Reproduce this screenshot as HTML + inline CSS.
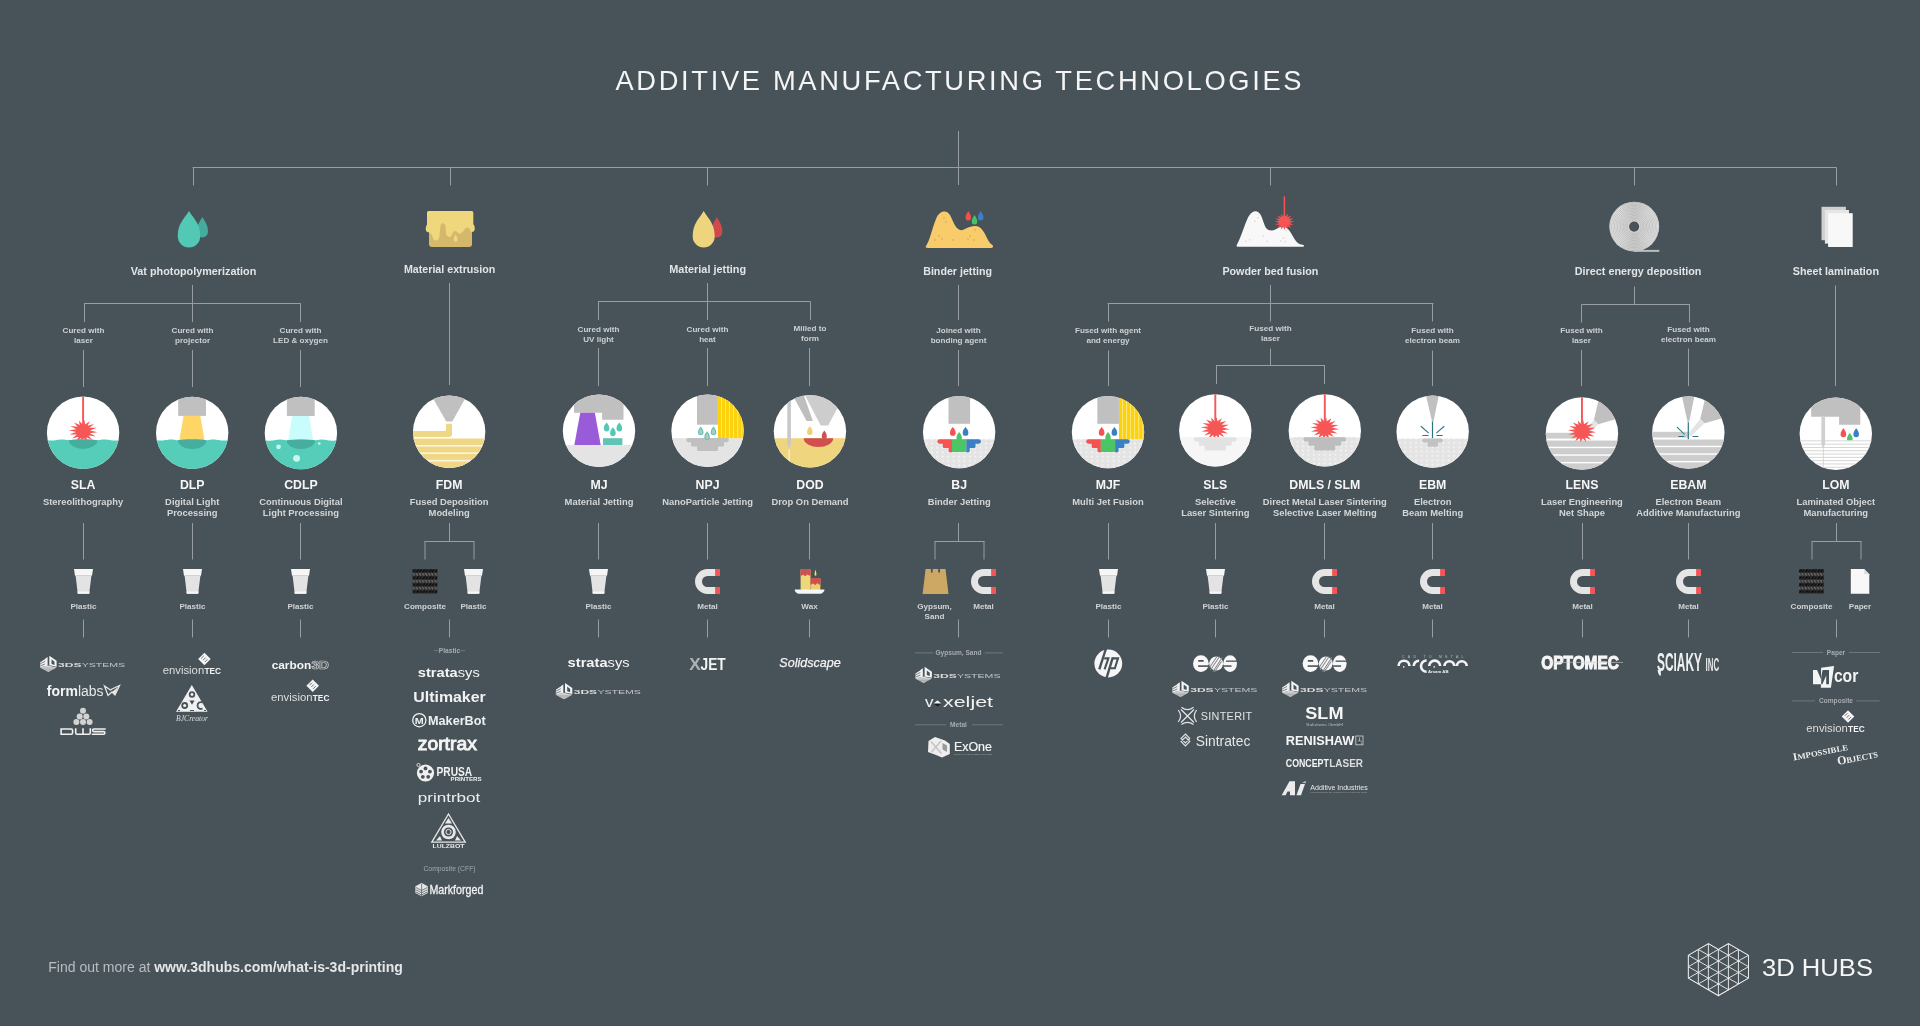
<!DOCTYPE html>
<html><head><meta charset="utf-8"><style>
html,body{margin:0;padding:0;background:#485359;}
body{width:1920px;height:1026px;overflow:hidden;}
svg{display:block;will-change:transform;}
</style></head><body>
<svg width="1920" height="1026" viewBox="0 0 1920 1026">
<defs><pattern id="dots" x="0" y="0" width="6.6" height="6.6" patternUnits="userSpaceOnUse"><rect width="6.6" height="6.6" fill="#e4e4e4"/><circle cx="1" cy="1" r="0.6" fill="#f7f7f7"/><circle cx="4.3" cy="4.3" r="0.6" fill="#f7f7f7"/></pattern>
<pattern id="weave" x="0" y="569" width="6.2" height="6.9" patternUnits="userSpaceOnUse"><rect width="6.2" height="6.9" fill="#2e2e2e"/><path d="M0.2,3.2 L2.6,0.4 L4.2,0.4 L1.8,3.2 Z M3.3,3.2 L5.7,0.4 L6.2,0.4 L6.2,1.2 L4.9,3.2 Z" fill="#050505"/><path d="M0,4.0 L1.6,6.6 L3.0,6.6 L1.4,4.0 Z M3.1,4.0 L4.7,6.6 L6.1,6.6 L4.5,4.0 Z" fill="#737373"/><path d="M1.4,4.0 L3.0,6.6 L3.5,6.6 L1.9,4.0 Z" fill="#4a4a4a"/></pattern>
<linearGradient id="coilg" x1="0" y1="0" x2="1" y2="0"><stop offset="0" stop-color="#ececec"/><stop offset="0.5" stop-color="#d2d2d2"/><stop offset="1" stop-color="#ececec"/></linearGradient>
<clipPath id="cc1"><circle cx="83.1" cy="432.8" r="36.2"/></clipPath>
<clipPath id="cc2"><circle cx="192.2" cy="432.85" r="36.2"/></clipPath>
<clipPath id="cc3"><circle cx="300.9" cy="432.95" r="36.2"/></clipPath>
<clipPath id="cc4"><circle cx="449.15" cy="431.75" r="36.2"/></clipPath>
<clipPath id="cc5"><circle cx="599" cy="430.75" r="36.2"/></clipPath>
<clipPath id="cc6"><circle cx="707.55" cy="430.75" r="36.2"/></clipPath>
<clipPath id="cc7"><circle cx="809.95" cy="431.3" r="36.2"/></clipPath>
<clipPath id="cc8"><circle cx="959.15" cy="432.1" r="36.2"/></clipPath>
<pattern id="dp1" x="929.19" y="441.31" width="5.42" height="4.37" patternUnits="userSpaceOnUse"><rect width="5.42" height="4.37" fill="#e4e4e4"/><circle cx="2.71" cy="2.19" r="0.95" fill="#f8f8f8"/></pattern>
<clipPath id="cc9"><circle cx="1108" cy="432.1" r="36.2"/></clipPath>
<pattern id="dp2" x="1078.29" y="441.31" width="5.42" height="4.37" patternUnits="userSpaceOnUse"><rect width="5.42" height="4.37" fill="#e4e4e4"/><circle cx="2.71" cy="2.19" r="0.95" fill="#f8f8f8"/></pattern>
<clipPath id="cc10"><circle cx="1215.3" cy="430.35" r="36.2"/></clipPath>
<clipPath id="cc11"><circle cx="1324.8" cy="430.4" r="36.2"/></clipPath>
<pattern id="dp3" x="1294.79" y="439.62" width="5.42" height="4.37" patternUnits="userSpaceOnUse"><rect width="5.42" height="4.37" fill="#e4e4e4"/><circle cx="2.71" cy="2.19" r="0.95" fill="#f8f8f8"/></pattern>
<clipPath id="cc12"><circle cx="1432.65" cy="431.65" r="36.2"/></clipPath>
<pattern id="dp4" x="1402.54" y="440.67" width="5.42" height="4.37" patternUnits="userSpaceOnUse"><rect width="5.42" height="4.37" fill="#e4e4e4"/><circle cx="2.71" cy="2.19" r="0.95" fill="#f8f8f8"/></pattern>
<clipPath id="cc13"><circle cx="1581.95" cy="433.55" r="36.2"/></clipPath>
<clipPath id="cc14"><circle cx="1688.35" cy="432.55" r="36.2"/></clipPath>
<clipPath id="cc15"><circle cx="1835.8" cy="433.75" r="36.2"/></clipPath>
<clipPath id="lomclip"><rect x="1795.8" y="393.75" width="80" height="46.6"/></clipPath>
<clipPath id="hubclip"><polygon points="1708.4,943.5 1718.4,949.3 1728.4,943.5 1748.5,955.2 1748.5,978.2 1718.4,995.9 1688.3,978.2 1688.3,955.2"/></clipPath></defs>
<rect width="1920" height="1026" fill="#485359"/>
<text x="958.5" y="89.5" font-family="Liberation Sans" font-size="27.3" font-weight="normal" fill="#f5f5f5" text-anchor="middle" textLength="686" lengthAdjust="spacing" >ADDITIVE MANUFACTURING TECHNOLOGIES</text>
<line x1="958.5" y1="131" x2="958.5" y2="185" stroke="#989da1" stroke-width="1"/>
<line x1="192.5" y1="167.5" x2="1836.5" y2="167.5" stroke="#989da1" stroke-width="1"/>
<line x1="193.5" y1="167.5" x2="193.5" y2="185.5" stroke="#989da1" stroke-width="1"/>
<line x1="450.5" y1="167.5" x2="450.5" y2="185.5" stroke="#989da1" stroke-width="1"/>
<line x1="707.5" y1="167.5" x2="707.5" y2="185.5" stroke="#989da1" stroke-width="1"/>
<line x1="1270.5" y1="167.5" x2="1270.5" y2="185.5" stroke="#989da1" stroke-width="1"/>
<line x1="1634.5" y1="167.5" x2="1634.5" y2="185.5" stroke="#989da1" stroke-width="1"/>
<line x1="1836.5" y1="167.5" x2="1836.5" y2="185.5" stroke="#989da1" stroke-width="1"/>
<path d="M202.4,217 C204.92000000000002,221.768 208.0,224.45000000000002 208.0,231.9 A5.6,5.6 0 0 1 196.8,231.9 C196.8,224.45000000000002 199.88,221.768 202.4,217 Z" fill="#45ab9c"/>
<path d="M189,211 C194.0625,219.08 200.25,223.625 200.25,236.25 A11.25,11.25 0 0 1 177.75,236.25 C177.75,223.625 183.9375,219.08 189,211 Z" fill="#52c8b5"/>
<path d="M429,221 H472 V244 Q472,247 469,247 H432 Q429,247 429,244 Z" fill="#d5b86c"/>
<path d="M428.5,210.9 H471.8 Q473.3,210.9 473.3,212.4 V224 Q475,226 474.8,228.5 Q474.8,232 471.5,232 L470.5,231 Q469.5,227.4 467.3,227.4 Q465.2,227.4 464.3,230 L461.5,233 Q459.3,234.8 457.7,232.6 Q455.3,229.8 453.2,232 Q451.3,237.2 449.4,237 Q447,237.2 446.1,234 L445.3,225.3 Q444,222.6 442,223.3 Q440.3,224.5 440.3,227 L439.2,238 Q438,240.6 435.7,240.4 Q433.2,240.3 432.6,237 Q431.2,232.8 428.5,232.3 Q425.7,232 425.7,229 Q425.7,226 427,224.5 L427,212.4 Q427,210.9 428.5,210.9 Z" fill="#efd77e"/>
<path d="M455.6,234.2 C456.4775,236.00799999999998 457.55,237.025 457.55,239.85 A1.95,1.95 0 0 1 453.65000000000003,239.85 C453.65000000000003,237.025 454.7225,236.00799999999998 455.6,234.2 Z" fill="#efd77e"/>
<path d="M716.9,217 C719.3299999999999,221.832 722.3,224.54999999999998 722.3,232.1 A5.4,5.4 0 0 1 711.5,232.1 C711.5,224.54999999999998 714.47,221.832 716.9,217 Z" fill="#cf4b4b"/>
<path d="M703.7,211 C708.6500000000001,219.16 714.7,223.75 714.7,236.5 A11.0,11.0 0 0 1 692.7,236.5 C692.7,223.75 698.75,219.16 703.7,211 Z" fill="#efd47e"/>
<path d="M926,246 C930,240 932,229 936,219 C939,211 946,209 950,215 C953,221 955,228 960,230 C964,231 968,226 975,226 C982,226 985,234 988,240 C990,244 992,244 993,246 C993.5,247.5 992,248 990,248 L928,248 C926,248 925,247 926,246 Z" fill="#f8cc6a"/>
<circle cx="944" cy="218" r="0.9" fill="#dfb054"/>
<circle cx="946" cy="222" r="0.9" fill="#dfb054"/>
<circle cx="939" cy="236" r="0.9" fill="#dfb054"/>
<circle cx="935" cy="240" r="0.9" fill="#dfb054"/>
<circle cx="942" cy="239" r="0.9" fill="#dfb054"/>
<circle cx="953" cy="240" r="0.9" fill="#dfb054"/>
<circle cx="968" cy="239" r="0.9" fill="#dfb054"/>
<circle cx="970" cy="236" r="0.9" fill="#dfb054"/>
<circle cx="974" cy="240" r="0.9" fill="#dfb054"/>
<circle cx="975" cy="230" r="0.9" fill="#dfb054"/>
<path d="M968.3,211 C969.5374999999999,213.16 971.05,214.375 971.05,217.75 A2.75,2.75 0 0 1 965.55,217.75 C965.55,214.375 967.0625,213.16 968.3,211 Z" fill="#f05050"/>
<path d="M974.5,215 C975.7375,217.16 977.25,218.375 977.25,221.75 A2.75,2.75 0 0 1 971.75,221.75 C971.75,218.375 973.2625,217.16 974.5,215 Z" fill="#44c36a"/>
<path d="M980.7,211 C981.9375,213.16 983.45,214.375 983.45,217.75 A2.75,2.75 0 0 1 977.95,217.75 C977.95,214.375 979.4625000000001,213.16 980.7,211 Z" fill="#3a7fc8"/>
<path d="M1237.8,246.8 Q1235.8,246.8 1237,244.4 C1240.5,239 1244,226 1247.8,218 C1251,211.5 1256.5,208.5 1260.3,214.2 C1263,218.5 1264,225.5 1266.5,228.6 C1268.5,231 1272.5,231 1275.5,229.4 C1278.5,227.8 1281.5,226 1285.5,227.2 C1289.5,228.7 1293,237 1296.3,241.5 C1298.3,244 1300.5,244.3 1302.6,244.8 C1304.6,245.3 1304.4,246.8 1302.4,246.8 Z" fill="#f8f8f8"/>
<circle cx="1257.9" cy="217.9" r="0.85" fill="#dedede"/>
<circle cx="1254.8" cy="221.2" r="0.85" fill="#dedede"/>
<circle cx="1245.8" cy="241.2" r="0.85" fill="#dedede"/>
<circle cx="1249.6" cy="239.7" r="0.85" fill="#dedede"/>
<circle cx="1263.3" cy="235.8" r="0.85" fill="#dedede"/>
<circle cx="1267.2" cy="241.2" r="0.85" fill="#dedede"/>
<circle cx="1280.8" cy="240.9" r="0.85" fill="#dedede"/>
<circle cx="1283.5" cy="238.2" r="0.85" fill="#dedede"/>
<circle cx="1285.2" cy="241.7" r="0.85" fill="#dedede"/>
<circle cx="1286" cy="230.5" r="0.85" fill="#dedede"/>
<rect x="1283.65" y="196.3" width="1.5" height="20" fill="#f55454"/>
<polygon points="1284.40,213.10 1285.45,216.40 1288.15,213.75 1287.40,217.21 1291.33,215.62 1288.89,218.70 1293.45,218.41 1289.70,220.65 1294.20,221.70 1289.70,222.75 1293.45,224.99 1288.89,224.70 1291.33,227.78 1287.40,226.19 1288.15,229.65 1285.45,227.00 1284.40,230.30 1283.35,227.00 1280.65,229.65 1281.40,226.19 1277.47,227.78 1279.91,224.70 1275.35,224.99 1279.10,222.75 1274.60,221.70 1279.10,220.65 1275.35,218.41 1279.91,218.70 1277.47,215.62 1281.40,217.21 1280.65,213.75 1283.35,216.40" fill="#f55454"/>
<g><rect x="1634" y="249.9" width="25.3" height="1.95" fill="#bdbdbd"/><circle cx="1634.25" cy="226.55" r="24.9" fill="url(#coilg)"/><circle cx="1634.25" cy="226.55" r="24.20" fill="none" stroke="#a4a4a4" stroke-width="0.5"/><circle cx="1634.25" cy="226.55" r="22.75" fill="none" stroke="#a4a4a4" stroke-width="0.5"/><circle cx="1634.25" cy="226.55" r="21.30" fill="none" stroke="#a4a4a4" stroke-width="0.5"/><circle cx="1634.25" cy="226.55" r="19.85" fill="none" stroke="#a4a4a4" stroke-width="0.5"/><circle cx="1634.25" cy="226.55" r="18.40" fill="none" stroke="#a4a4a4" stroke-width="0.5"/><circle cx="1634.25" cy="226.55" r="16.95" fill="none" stroke="#a4a4a4" stroke-width="0.5"/><circle cx="1634.25" cy="226.55" r="15.50" fill="none" stroke="#a4a4a4" stroke-width="0.5"/><circle cx="1634.25" cy="226.55" r="14.05" fill="none" stroke="#a4a4a4" stroke-width="0.5"/><circle cx="1634.25" cy="226.55" r="12.60" fill="none" stroke="#a4a4a4" stroke-width="0.5"/><circle cx="1634.25" cy="226.55" r="11.15" fill="none" stroke="#a4a4a4" stroke-width="0.5"/><circle cx="1634.25" cy="226.55" r="9.70" fill="none" stroke="#a4a4a4" stroke-width="0.5"/><circle cx="1634.25" cy="226.55" r="8.25" fill="none" stroke="#a4a4a4" stroke-width="0.5"/><circle cx="1634.25" cy="226.55" r="6.80" fill="none" stroke="#a4a4a4" stroke-width="0.5"/><circle cx="1634.15" cy="226.6" r="5.1" fill="#485359"/></g>
<rect x="1821.5" y="206.8" width="24.4" height="33.4" fill="#d0d0d0"/>
<rect x="1824.9" y="210" width="24.1" height="33.6" fill="#e6e6e6"/>
<rect x="1828.1" y="213.2" width="24.6" height="33.8" fill="#f8f8f8"/>
<text x="193.5" y="274.9" font-family="Liberation Sans" font-size="10.7" font-weight="bold" fill="#e2e4e5" text-anchor="middle" textLength="125.5" lengthAdjust="spacingAndGlyphs" >Vat photopolymerization</text>
<text x="449.6" y="272.8" font-family="Liberation Sans" font-size="10.7" font-weight="bold" fill="#e2e4e5" text-anchor="middle" textLength="91.4" lengthAdjust="spacingAndGlyphs" >Material extrusion</text>
<text x="707.7" y="272.8" font-family="Liberation Sans" font-size="10.7" font-weight="bold" fill="#e2e4e5" text-anchor="middle" textLength="76.8" lengthAdjust="spacingAndGlyphs" >Material jetting</text>
<text x="957.6" y="275.0" font-family="Liberation Sans" font-size="10.7" font-weight="bold" fill="#e2e4e5" text-anchor="middle" textLength="68.8" lengthAdjust="spacingAndGlyphs" >Binder jetting</text>
<text x="1270.4" y="275.0" font-family="Liberation Sans" font-size="10.7" font-weight="bold" fill="#e2e4e5" text-anchor="middle" textLength="96" lengthAdjust="spacingAndGlyphs" >Powder bed fusion</text>
<text x="1638.1" y="275.0" font-family="Liberation Sans" font-size="10.7" font-weight="bold" fill="#e2e4e5" text-anchor="middle" textLength="126.7" lengthAdjust="spacingAndGlyphs" >Direct energy deposition</text>
<text x="1835.9" y="275.0" font-family="Liberation Sans" font-size="10.7" font-weight="bold" fill="#e2e4e5" text-anchor="middle" textLength="86.2" lengthAdjust="spacingAndGlyphs" >Sheet lamination</text>
<line x1="192.5" y1="285" x2="192.5" y2="322" stroke="#989da1" stroke-width="1"/>
<line x1="84" y1="303.5" x2="301" y2="303.5" stroke="#989da1" stroke-width="1"/>
<line x1="84.5" y1="303.5" x2="84.5" y2="322" stroke="#989da1" stroke-width="1"/>
<line x1="300.5" y1="303.5" x2="300.5" y2="322" stroke="#989da1" stroke-width="1"/>
<text x="83.5" y="333.1" font-family="Liberation Sans" font-size="8.1" font-weight="bold" fill="#cdd0d2" text-anchor="middle" >Cured with</text>
<text x="83.5" y="343.25" font-family="Liberation Sans" font-size="8.1" font-weight="bold" fill="#cdd0d2" text-anchor="middle" >laser</text>
<text x="192.5" y="333.1" font-family="Liberation Sans" font-size="8.1" font-weight="bold" fill="#cdd0d2" text-anchor="middle" >Cured with</text>
<text x="192.5" y="343.25" font-family="Liberation Sans" font-size="8.1" font-weight="bold" fill="#cdd0d2" text-anchor="middle" >projector</text>
<text x="300.5" y="333.1" font-family="Liberation Sans" font-size="8.1" font-weight="bold" fill="#cdd0d2" text-anchor="middle" >Cured with</text>
<text x="300.5" y="343.25" font-family="Liberation Sans" font-size="8.1" font-weight="bold" fill="#cdd0d2" text-anchor="middle" >LED &amp; oxygen</text>
<line x1="83.5" y1="350" x2="83.5" y2="387" stroke="#989da1" stroke-width="1"/>
<line x1="192.5" y1="350" x2="192.5" y2="387" stroke="#989da1" stroke-width="1"/>
<line x1="300.5" y1="350" x2="300.5" y2="387" stroke="#989da1" stroke-width="1"/>
<line x1="449.5" y1="283" x2="449.5" y2="385" stroke="#989da1" stroke-width="1"/>
<line x1="707.5" y1="283" x2="707.5" y2="320" stroke="#989da1" stroke-width="1"/>
<line x1="598" y1="301.5" x2="810.5" y2="301.5" stroke="#989da1" stroke-width="1"/>
<line x1="598.5" y1="301.5" x2="598.5" y2="320" stroke="#989da1" stroke-width="1"/>
<line x1="810.5" y1="301.5" x2="810.5" y2="320" stroke="#989da1" stroke-width="1"/>
<text x="598.5" y="331.6" font-family="Liberation Sans" font-size="8.1" font-weight="bold" fill="#cdd0d2" text-anchor="middle" >Cured with</text>
<text x="598.5" y="341.75" font-family="Liberation Sans" font-size="8.1" font-weight="bold" fill="#cdd0d2" text-anchor="middle" >UV light</text>
<text x="707.5" y="331.6" font-family="Liberation Sans" font-size="8.1" font-weight="bold" fill="#cdd0d2" text-anchor="middle" >Cured with</text>
<text x="707.5" y="341.75" font-family="Liberation Sans" font-size="8.1" font-weight="bold" fill="#cdd0d2" text-anchor="middle" >heat</text>
<text x="810" y="330.8" font-family="Liberation Sans" font-size="8.1" font-weight="bold" fill="#cdd0d2" text-anchor="middle" >Milled to</text>
<text x="810" y="340.95" font-family="Liberation Sans" font-size="8.1" font-weight="bold" fill="#cdd0d2" text-anchor="middle" >form</text>
<line x1="598.5" y1="348" x2="598.5" y2="386" stroke="#989da1" stroke-width="1"/>
<line x1="707.5" y1="348" x2="707.5" y2="386" stroke="#989da1" stroke-width="1"/>
<line x1="809.5" y1="348" x2="809.5" y2="386" stroke="#989da1" stroke-width="1"/>
<line x1="958.5" y1="285" x2="958.5" y2="320" stroke="#989da1" stroke-width="1"/>
<text x="958.5" y="333.1" font-family="Liberation Sans" font-size="8.1" font-weight="bold" fill="#cdd0d2" text-anchor="middle" >Joined with</text>
<text x="958.5" y="343.25" font-family="Liberation Sans" font-size="8.1" font-weight="bold" fill="#cdd0d2" text-anchor="middle" >bonding agent</text>
<line x1="958.5" y1="350" x2="958.5" y2="386" stroke="#989da1" stroke-width="1"/>
<line x1="1270.5" y1="285" x2="1270.5" y2="321.5" stroke="#989da1" stroke-width="1"/>
<line x1="1107.5" y1="303.5" x2="1433.5" y2="303.5" stroke="#989da1" stroke-width="1"/>
<line x1="1108.5" y1="303.5" x2="1108.5" y2="321.5" stroke="#989da1" stroke-width="1"/>
<line x1="1432.5" y1="303.5" x2="1432.5" y2="321.5" stroke="#989da1" stroke-width="1"/>
<text x="1108" y="333.3" font-family="Liberation Sans" font-size="8.1" font-weight="bold" fill="#cdd0d2" text-anchor="middle" >Fused with agent</text>
<text x="1108" y="343.45" font-family="Liberation Sans" font-size="8.1" font-weight="bold" fill="#cdd0d2" text-anchor="middle" >and energy</text>
<text x="1270.5" y="331.0" font-family="Liberation Sans" font-size="8.1" font-weight="bold" fill="#cdd0d2" text-anchor="middle" >Fused with</text>
<text x="1270.5" y="341.15" font-family="Liberation Sans" font-size="8.1" font-weight="bold" fill="#cdd0d2" text-anchor="middle" >laser</text>
<text x="1432.5" y="333.3" font-family="Liberation Sans" font-size="8.1" font-weight="bold" fill="#cdd0d2" text-anchor="middle" >Fused with</text>
<text x="1432.5" y="343.45" font-family="Liberation Sans" font-size="8.1" font-weight="bold" fill="#cdd0d2" text-anchor="middle" >electron beam</text>
<line x1="1270.5" y1="348.5" x2="1270.5" y2="366" stroke="#989da1" stroke-width="1"/>
<line x1="1216" y1="365.5" x2="1325" y2="365.5" stroke="#989da1" stroke-width="1"/>
<line x1="1216.5" y1="365.5" x2="1216.5" y2="384" stroke="#989da1" stroke-width="1"/>
<line x1="1324.5" y1="365.5" x2="1324.5" y2="384" stroke="#989da1" stroke-width="1"/>
<line x1="1108.5" y1="350.5" x2="1108.5" y2="386" stroke="#989da1" stroke-width="1"/>
<line x1="1432.5" y1="350.5" x2="1432.5" y2="386" stroke="#989da1" stroke-width="1"/>
<line x1="1634.5" y1="286.5" x2="1634.5" y2="304.5" stroke="#989da1" stroke-width="1"/>
<line x1="1581.5" y1="304.5" x2="1690" y2="304.5" stroke="#989da1" stroke-width="1"/>
<line x1="1581.5" y1="304.5" x2="1581.5" y2="322.5" stroke="#989da1" stroke-width="1"/>
<line x1="1689.5" y1="304.5" x2="1689.5" y2="322.5" stroke="#989da1" stroke-width="1"/>
<text x="1581.5" y="332.6" font-family="Liberation Sans" font-size="8.1" font-weight="bold" fill="#cdd0d2" text-anchor="middle" >Fused with</text>
<text x="1581.5" y="342.75" font-family="Liberation Sans" font-size="8.1" font-weight="bold" fill="#cdd0d2" text-anchor="middle" >laser</text>
<text x="1688.5" y="331.6" font-family="Liberation Sans" font-size="8.1" font-weight="bold" fill="#cdd0d2" text-anchor="middle" >Fused with</text>
<text x="1688.5" y="341.75" font-family="Liberation Sans" font-size="8.1" font-weight="bold" fill="#cdd0d2" text-anchor="middle" >electron beam</text>
<line x1="1581.5" y1="350" x2="1581.5" y2="386" stroke="#989da1" stroke-width="1"/>
<line x1="1688.5" y1="348.5" x2="1688.5" y2="386" stroke="#989da1" stroke-width="1"/>
<line x1="1835.5" y1="285.5" x2="1835.5" y2="386" stroke="#989da1" stroke-width="1"/>
<g clip-path="url(#cc1)"><rect x="45.89999999999999" y="395.6" width="74.4" height="74.4" fill="#ffffff"/>
<rect x="82.14999999999999" y="392.8" width="1.9" height="32" fill="#f75656"/>
<polygon points="84.43,419.95 85.09,424.49 89.81,421.20 87.51,425.76 94.18,423.98 89.25,427.86 96.86,427.86 90.06,430.47 97.44,432.24 89.81,433.19 95.84,436.47 88.54,435.61 92.30,439.89 86.44,437.35 87.36,441.99 83.83,438.16 81.77,442.45 81.11,437.91 76.39,441.20 78.69,436.64 72.02,438.42 76.95,434.54 69.34,434.54 76.14,431.93 68.76,430.16 76.39,429.21 70.36,425.93 77.66,426.79 73.90,422.51 79.76,425.05 78.84,420.41 82.37,424.24" fill="#f75656"/>
<path d="M45.10,439.80 L46.37,440.00 L47.63,440.21 L48.90,440.38 L50.17,440.50 L51.43,440.55 L52.70,440.52 L53.97,440.42 L55.23,440.26 L56.50,440.06 L57.77,439.85 L59.03,439.67 L60.30,439.53 L61.57,439.46 L62.83,439.46 L64.10,439.55 L65.37,439.69 L66.63,439.88 L67.90,440.09 L69.17,440.28 L70.43,440.44 L71.70,440.53 L72.97,440.55 L74.23,440.49 L75.50,440.36 L76.77,440.18 L78.03,439.97 L79.30,439.77 L80.57,439.60 L81.83,439.49 L83.10,439.45 L84.37,439.49 L85.63,439.60 L86.90,439.77 L88.17,439.97 L89.43,440.18 L90.70,440.36 L91.97,440.49 L93.23,440.55 L94.50,440.53 L95.77,440.44 L97.03,440.28 L98.30,440.09 L99.57,439.88 L100.83,439.69 L102.10,439.55 L103.37,439.46 L104.63,439.46 L105.90,439.53 L107.17,439.67 L108.43,439.85 L109.70,440.06 L110.97,440.26 L112.23,440.42 L113.50,440.52 L114.77,440.55 L116.03,440.50 L117.30,440.38 L118.57,440.21 L119.83,440.00 L121.10,439.80 L121.1,480.0 L45.099999999999994,480.0 Z" fill="#55cdb9"/>
<path d="M68.8,440.2 A14.3,8.7 0 0 0 97.39999999999999,440.2 Q89.1,438.90000000000003 83.1,439.45 Q77.1,438.90000000000003 68.8,440.2 Z" fill="#46ae9f"/>
</g>
<text x="83.1" y="489.1" font-family="Liberation Sans" font-size="12.3" font-weight="bold" fill="#f6f6f6" text-anchor="middle" >SLA</text>
<text x="83.1" y="504.6" font-family="Liberation Sans" font-size="9.4" font-weight="bold" fill="#d3d6d7" text-anchor="middle" >Stereolithography</text>
<g clip-path="url(#cc2)"><rect x="155.0" y="395.65000000000003" width="74.4" height="74.4" fill="#ffffff"/>
<rect x="178.2" y="394.85" width="27.8" height="21.05" fill="#c0c0c0"/>
<polygon points="183.5,415.90000000000003 200.39999999999998,415.90000000000003 204.5,440.35 179.39999999999998,440.35" fill="#fed567"/>
<path d="M154.20,439.85 L155.47,440.05 L156.73,440.26 L158.00,440.43 L159.27,440.55 L160.53,440.60 L161.80,440.57 L163.07,440.47 L164.33,440.31 L165.60,440.11 L166.87,439.90 L168.13,439.72 L169.40,439.58 L170.67,439.51 L171.93,439.51 L173.20,439.60 L174.47,439.74 L175.73,439.93 L177.00,440.14 L178.27,440.33 L179.53,440.49 L180.80,440.58 L182.07,440.60 L183.33,440.54 L184.60,440.41 L185.87,440.23 L187.13,440.02 L188.40,439.82 L189.67,439.65 L190.93,439.54 L192.20,439.50 L193.47,439.54 L194.73,439.65 L196.00,439.82 L197.27,440.02 L198.53,440.23 L199.80,440.41 L201.07,440.54 L202.33,440.60 L203.60,440.58 L204.87,440.49 L206.13,440.33 L207.40,440.14 L208.67,439.93 L209.93,439.74 L211.20,439.60 L212.47,439.51 L213.73,439.51 L215.00,439.58 L216.27,439.72 L217.53,439.90 L218.80,440.11 L220.07,440.31 L221.33,440.47 L222.60,440.57 L223.87,440.60 L225.13,440.55 L226.40,440.43 L227.67,440.26 L228.93,440.05 L230.20,439.85 L230.2,480.05 L154.2,480.05 Z" fill="#55cdb9"/>
<path d="M177.89999999999998,440.25 A14.3,8.7 0 0 0 206.5,440.25 Q198.2,438.95000000000005 192.2,439.5 Q186.2,438.95000000000005 177.89999999999998,440.25 Z" fill="#46ae9f"/>
</g>
<text x="192.2" y="489.1" font-family="Liberation Sans" font-size="12.3" font-weight="bold" fill="#f6f6f6" text-anchor="middle" >DLP</text>
<text x="192.2" y="504.6" font-family="Liberation Sans" font-size="9.4" font-weight="bold" fill="#d3d6d7" text-anchor="middle" >Digital Light</text>
<text x="192.2" y="515.9" font-family="Liberation Sans" font-size="9.4" font-weight="bold" fill="#d3d6d7" text-anchor="middle" >Processing</text>
<g clip-path="url(#cc3)"><rect x="263.7" y="395.75" width="74.4" height="74.4" fill="#ffffff"/>
<rect x="286.9" y="394.95" width="27.8" height="21.05" fill="#c0c0c0"/>
<polygon points="292.2,416.0 309.09999999999997,416.0 313.2,440.45 288.09999999999997,440.45" fill="#c9fcfc"/>
<path d="M262.90,439.95 L264.17,440.15 L265.43,440.36 L266.70,440.53 L267.97,440.65 L269.23,440.70 L270.50,440.67 L271.77,440.57 L273.03,440.41 L274.30,440.21 L275.57,440.00 L276.83,439.82 L278.10,439.68 L279.37,439.61 L280.63,439.61 L281.90,439.70 L283.17,439.84 L284.43,440.03 L285.70,440.24 L286.97,440.43 L288.23,440.59 L289.50,440.68 L290.77,440.70 L292.03,440.64 L293.30,440.51 L294.57,440.33 L295.83,440.12 L297.10,439.92 L298.37,439.75 L299.63,439.64 L300.90,439.60 L302.17,439.64 L303.43,439.75 L304.70,439.92 L305.97,440.12 L307.23,440.33 L308.50,440.51 L309.77,440.64 L311.03,440.70 L312.30,440.68 L313.57,440.59 L314.83,440.43 L316.10,440.24 L317.37,440.03 L318.63,439.84 L319.90,439.70 L321.17,439.61 L322.43,439.61 L323.70,439.68 L324.97,439.82 L326.23,440.00 L327.50,440.21 L328.77,440.41 L330.03,440.57 L331.30,440.67 L332.57,440.70 L333.83,440.65 L335.10,440.53 L336.37,440.36 L337.63,440.15 L338.90,439.95 L338.9,480.15 L262.9,480.15 Z" fill="#55cdb9"/>
<path d="M286.59999999999997,440.34999999999997 A14.3,8.7 0 0 0 315.2,440.34999999999997 Q306.9,439.05 300.9,439.59999999999997 Q294.9,439.05 286.59999999999997,440.34999999999997 Z" fill="#46ae9f"/>
<circle cx="278.54999999999995" cy="446.8" r="2.35" fill="#c8f8f2"/>
<circle cx="296.59999999999997" cy="458.34999999999997" r="3.45" fill="#c8f8f2"/>
<circle cx="319.29999999999995" cy="443.5" r="1.3" fill="#c8f8f2"/>
</g>
<text x="300.9" y="489.1" font-family="Liberation Sans" font-size="12.3" font-weight="bold" fill="#f6f6f6" text-anchor="middle" >CDLP</text>
<text x="300.9" y="504.6" font-family="Liberation Sans" font-size="9.4" font-weight="bold" fill="#d3d6d7" text-anchor="middle" >Continuous Digital</text>
<text x="300.9" y="515.9" font-family="Liberation Sans" font-size="9.4" font-weight="bold" fill="#d3d6d7" text-anchor="middle" >Light Processing</text>
<g clip-path="url(#cc4)"><rect x="411.95" y="394.55" width="74.4" height="74.4" fill="#ffffff"/>
<polygon points="429.25,391.75 469.04999999999995,391.75 452.29999999999995,421.5 446.25,421.5" fill="#c0c0c0"/>
<path d="M446.04999999999995,423.8 H452.04999999999995 V434.05 A3,3 0 0 1 449.04999999999995,437.05 H409.15 V431.0 H444.54999999999995 A1.5,1.5 0 0 0 446.04999999999995,429.5 Z" fill="#efd785"/>
<rect x="409.15" y="438.6" width="80" height="40" fill="#f8f5e8"/>
<rect x="409.15" y="438.6" width="80" height="6.40" fill="#efd785"/>
<rect x="409.15" y="446.6" width="80" height="5.80" fill="#efd785"/>
<rect x="409.15" y="454.0" width="80" height="5.85" fill="#efd785"/>
<rect x="409.15" y="461.55" width="80" height="10.20" fill="#efd785"/>
</g>
<text x="449.15" y="489.1" font-family="Liberation Sans" font-size="12.3" font-weight="bold" fill="#f6f6f6" text-anchor="middle" >FDM</text>
<text x="449.15" y="504.6" font-family="Liberation Sans" font-size="9.4" font-weight="bold" fill="#d3d6d7" text-anchor="middle" >Fused Deposition</text>
<text x="449.15" y="515.9" font-family="Liberation Sans" font-size="9.4" font-weight="bold" fill="#d3d6d7" text-anchor="middle" >Modeling</text>
<g clip-path="url(#cc5)"><rect x="561.8" y="393.55" width="74.4" height="74.4" fill="#ffffff"/>
<rect x="559" y="445.0" width="80" height="30" fill="#e4e4e4"/>
<path d="M574,390.75 H623.5 V419.85 H602.1 V412.8 H574 Z" fill="#c0c0c0"/>
<polygon points="580.3,412.8 594.85,412.8 600.7,445.0 574.3,445.0" fill="#9a5bd9"/>
<rect x="603" y="438.2" width="19.4" height="6.8" fill="#5fc4b4"/>
<path d="M606.6,422.6 C607.86,424.52000000000004 609.4,425.6 609.4,428.6 A2.8,2.8 0 0 1 603.8000000000001,428.6 C603.8000000000001,425.6 605.34,424.52000000000004 606.6,422.6 Z" fill="#53c8b5"/>
<path d="M612.9,427.3 C614.16,429.22 615.6999999999999,430.3 615.6999999999999,433.3 A2.8,2.8 0 0 1 610.1,433.3 C610.1,430.3 611.64,429.22 612.9,427.3 Z" fill="#53c8b5"/>
<path d="M619.3,422.6 C620.56,424.52000000000004 622.0999999999999,425.6 622.0999999999999,428.6 A2.8,2.8 0 0 1 616.5,428.6 C616.5,425.6 618.04,424.52000000000004 619.3,422.6 Z" fill="#53c8b5"/>
</g>
<text x="599" y="489.1" font-family="Liberation Sans" font-size="12.3" font-weight="bold" fill="#f6f6f6" text-anchor="middle" >MJ</text>
<text x="599" y="504.6" font-family="Liberation Sans" font-size="9.4" font-weight="bold" fill="#d3d6d7" text-anchor="middle" >Material Jetting</text>
<g clip-path="url(#cc6)"><rect x="670.3499999999999" y="393.55" width="74.4" height="74.4" fill="#ffffff"/>
<rect x="667.55" y="438.2" width="80" height="40" fill="#e4e4e4"/>
<rect x="717.9" y="390.75" width="29.649999999999977" height="47.44999999999999" fill="#fcd20f"/><rect x="721.05" y="390.75" width="0.7" height="47.44999999999999" fill="#fff0a0"/><rect x="725.15" y="390.75" width="0.7" height="47.44999999999999" fill="#fff0a0"/><rect x="729.25" y="390.75" width="0.7" height="47.44999999999999" fill="#fff0a0"/><rect x="733.35" y="390.75" width="0.7" height="47.44999999999999" fill="#fff0a0"/><rect x="737.45" y="390.75" width="0.7" height="47.44999999999999" fill="#fff0a0"/><rect x="741.55" y="390.75" width="0.7" height="47.44999999999999" fill="#fff0a0"/><rect x="745.65" y="390.75" width="0.7" height="47.44999999999999" fill="#fff0a0"/>
<rect x="697.0" y="390.75" width="20.9" height="33.95" fill="#c0c0c0"/>
<path d="M688.3,438.05 H726.8 A2.05,2.05 0 0 1 726.8,442.15000000000003 H724.05 V445.45000000000005 A1,1 0 0 1 723.05,446.45000000000005 H718.0 V449.95000000000005 A1,1 0 0 1 717.0,450.95000000000005 H698.0999999999999 A1,1 0 0 1 697.0999999999999,449.95000000000005 V446.45000000000005 H692.05 A1,1 0 0 1 691.05,445.45000000000005 V442.15000000000003 H688.3 A2.05,2.05 0 0 1 688.3,438.05 Z" fill="#c0c0c0"/>
<path d="M700.75,426.5 C701.9875,428.436 703.5,429.52500000000003 703.5,432.55 A2.75,2.75 0 0 1 698.0,432.55 C698.0,429.52500000000003 699.5125,428.436 700.75,426.5 Z" fill="#53c8b5"/><path d="M700.75,428.1 C701.4925,429.62 702.4,430.475 702.4,432.85 A1.65,1.65 0 0 1 699.1,432.85 C699.1,430.475 700.0075,429.62 700.75,428.1 Z" fill="#c0c0c0"/>
<path d="M707.0999999999999,431.2 C708.3374999999999,433.13599999999997 709.8499999999999,434.225 709.8499999999999,437.25 A2.75,2.75 0 0 1 704.3499999999999,437.25 C704.3499999999999,434.225 705.8625,433.13599999999997 707.0999999999999,431.2 Z" fill="#53c8b5"/><path d="M707.0999999999999,432.8 C707.8424999999999,434.32 708.7499999999999,435.175 708.7499999999999,437.55 A1.65,1.65 0 0 1 705.4499999999999,437.55 C705.4499999999999,435.175 706.3575,434.32 707.0999999999999,432.8 Z" fill="#c0c0c0"/>
<path d="M713.5,426.5 C714.7375,428.436 716.25,429.52500000000003 716.25,432.55 A2.75,2.75 0 0 1 710.75,432.55 C710.75,429.52500000000003 712.2625,428.436 713.5,426.5 Z" fill="#53c8b5"/><path d="M713.5,428.1 C714.2425,429.62 715.15,430.475 715.15,432.85 A1.65,1.65 0 0 1 711.85,432.85 C711.85,430.475 712.7575,429.62 713.5,428.1 Z" fill="#c0c0c0"/>
</g>
<text x="707.55" y="489.1" font-family="Liberation Sans" font-size="12.3" font-weight="bold" fill="#f6f6f6" text-anchor="middle" >NPJ</text>
<text x="707.55" y="504.6" font-family="Liberation Sans" font-size="9.4" font-weight="bold" fill="#d3d6d7" text-anchor="middle" >NanoParticle Jetting</text>
<g clip-path="url(#cc7)"><rect x="772.75" y="394.1" width="74.4" height="74.4" fill="#ffffff"/>
<rect x="769.95" y="438.2" width="80" height="40" fill="#efd67e"/>
<polygon points="790.6,391.3 802.4000000000001,391.3 812.9000000000001,420.90000000000003 806.6,420.90000000000003" fill="#bebebe"/>
<polygon points="802.9000000000001,391.3 846.6,391.3 828.1,425.5 820.7,425.5" fill="#cdcdcd"/>
<polygon points="787.3000000000001,391.3 790.9000000000001,391.3 790.9000000000001,443.3 789.1,449.7 787.3000000000001,443.3" fill="#c8c8c8"/>
<rect x="788.75" y="449.3" width="0.8" height="12" fill="#ffffff"/>
<path d="M803.7,438.2 H833.2 A14.75,8.8 0 0 1 803.7,438.2 Z" fill="#d04f4f"/>
<path d="M824.3000000000001,430.6 C825.4250000000001,432.52000000000004 826.8000000000001,433.6 826.8000000000001,436.6 A2.5,2.5 0 0 1 821.8000000000001,436.6 C821.8000000000001,433.6 823.1750000000001,432.52000000000004 824.3000000000001,430.6 Z" fill="#d04f4f"/>
<path d="M809.8000000000001,425.90000000000003 C811.0375,427.90000000000003 812.5500000000001,429.02500000000003 812.5500000000001,432.15000000000003 A2.75,2.75 0 0 1 807.0500000000001,432.15000000000003 C807.0500000000001,429.02500000000003 808.5625000000001,427.90000000000003 809.8000000000001,425.90000000000003 Z" fill="#efd06e"/>
</g>
<text x="809.95" y="489.1" font-family="Liberation Sans" font-size="12.3" font-weight="bold" fill="#f6f6f6" text-anchor="middle" >DOD</text>
<text x="809.95" y="504.6" font-family="Liberation Sans" font-size="9.4" font-weight="bold" fill="#d3d6d7" text-anchor="middle" >Drop On Demand</text>
<g clip-path="url(#cc8)"><rect x="921.9499999999999" y="394.90000000000003" width="74.4" height="74.4" fill="#ffffff"/>
<rect x="919.15" y="439.20000000000005" width="80" height="45" fill="url(#dp1)"/>
<rect x="948.5" y="392.1" width="21.6" height="31.7" fill="#c0c0c0"/>
<path d="M952.05,439.20000000000005 H939.65 A2.3,2.3 0 0 0 939.65,443.85 H942.8 V446.80000000000007 A1.3,1.3 0 0 0 944.1,448.1 H948.6 V450.90000000000003 A1.3,1.3 0 0 0 949.9,452.20000000000005 H952.05 Z" fill="#f55252"/>
<path d="M966.25,439.20000000000005 H978.65 A2.3,2.3 0 0 1 978.65,443.85 H975.5 V446.80000000000007 A1.3,1.3 0 0 1 974.1999999999999,448.1 H969.6999999999999 V450.90000000000003 A1.3,1.3 0 0 1 968.4,452.20000000000005 H966.25 Z" fill="#3b7fc4"/>
<rect x="951.9" y="439.20000000000005" width="14.3" height="12.8" fill="#4cc566"/>
<path d="M959.15,431.90000000000003 C960.3874999999999,433.74 961.9,434.77500000000003 961.9,437.65000000000003 A2.75,2.75 0 0 1 956.4,437.65000000000003 C956.4,434.77500000000003 957.9125,433.74 959.15,431.90000000000003 Z" fill="#4cc566"/>
<path d="M952.8,426.90000000000003 C954.0825,428.836 955.65,429.925 955.65,432.95 A2.85,2.85 0 0 1 949.9499999999999,432.95 C949.9499999999999,429.925 951.5174999999999,428.836 952.8,426.90000000000003 Z" fill="#f55252"/>
<path d="M965.55,426.90000000000003 C966.8325,428.836 968.4,429.925 968.4,432.95 A2.85,2.85 0 0 1 962.6999999999999,432.95 C962.6999999999999,429.925 964.2674999999999,428.836 965.55,426.90000000000003 Z" fill="#3b7fc4"/>
</g>
<text x="959.15" y="489.1" font-family="Liberation Sans" font-size="12.3" font-weight="bold" fill="#f6f6f6" text-anchor="middle" >BJ</text>
<text x="959.15" y="504.6" font-family="Liberation Sans" font-size="9.4" font-weight="bold" fill="#d3d6d7" text-anchor="middle" >Binder Jetting</text>
<g clip-path="url(#cc9)"><rect x="1070.8" y="394.90000000000003" width="74.4" height="74.4" fill="#ffffff"/>
<rect x="1068" y="439.20000000000005" width="80" height="45" fill="url(#dp2)"/>
<rect x="1118.95" y="392.1" width="29.049999999999955" height="47.10000000000002" fill="#fcd20f"/><rect x="1122.05" y="392.1" width="0.7" height="47.10000000000002" fill="#fff0a0"/><rect x="1126.15" y="392.1" width="0.7" height="47.10000000000002" fill="#fff0a0"/><rect x="1130.25" y="392.1" width="0.7" height="47.10000000000002" fill="#fff0a0"/><rect x="1134.35" y="392.1" width="0.7" height="47.10000000000002" fill="#fff0a0"/><rect x="1138.45" y="392.1" width="0.7" height="47.10000000000002" fill="#fff0a0"/><rect x="1142.55" y="392.1" width="0.7" height="47.10000000000002" fill="#fff0a0"/><rect x="1146.65" y="392.1" width="0.7" height="47.10000000000002" fill="#fff0a0"/>
<rect x="1097.35" y="392.1" width="21.6" height="31.7" fill="#c0c0c0"/>
<path d="M1100.9,439.20000000000005 H1088.5 A2.3,2.3 0 0 0 1088.5,443.85 H1091.65 V446.80000000000007 A1.3,1.3 0 0 0 1092.95,448.1 H1097.45 V450.90000000000003 A1.3,1.3 0 0 0 1098.75,452.20000000000005 H1100.9 Z" fill="#f55252"/>
<path d="M1115.1,439.20000000000005 H1127.5 A2.3,2.3 0 0 1 1127.5,443.85 H1124.35 V446.80000000000007 A1.3,1.3 0 0 1 1123.05,448.1 H1118.55 V450.90000000000003 A1.3,1.3 0 0 1 1117.25,452.20000000000005 H1115.1 Z" fill="#3b7fc4"/>
<rect x="1100.75" y="439.20000000000005" width="14.3" height="12.8" fill="#4cc566"/>
<path d="M1108,431.90000000000003 C1109.2375,433.74 1110.75,434.77500000000003 1110.75,437.65000000000003 A2.75,2.75 0 0 1 1105.25,437.65000000000003 C1105.25,434.77500000000003 1106.7625,433.74 1108,431.90000000000003 Z" fill="#4cc566"/>
<path d="M1101.65,426.90000000000003 C1102.9325000000001,428.836 1104.5,429.925 1104.5,432.95 A2.85,2.85 0 0 1 1098.8000000000002,432.95 C1098.8000000000002,429.925 1100.3675,428.836 1101.65,426.90000000000003 Z" fill="#f55252"/>
<path d="M1114.4,426.90000000000003 C1115.6825000000001,428.836 1117.25,429.925 1117.25,432.95 A2.85,2.85 0 0 1 1111.5500000000002,432.95 C1111.5500000000002,429.925 1113.1175,428.836 1114.4,426.90000000000003 Z" fill="#3b7fc4"/>
</g>
<text x="1108" y="489.1" font-family="Liberation Sans" font-size="12.3" font-weight="bold" fill="#f6f6f6" text-anchor="middle" >MJF</text>
<text x="1108" y="504.6" font-family="Liberation Sans" font-size="9.4" font-weight="bold" fill="#d3d6d7" text-anchor="middle" >Multi Jet Fusion</text>
<g clip-path="url(#cc10)"><rect x="1178.1" y="393.15000000000003" width="74.4" height="74.4" fill="#ffffff"/>
<rect x="1175.3" y="437.20000000000005" width="80" height="40" fill="#f6f6f6"/>
<rect x="1214.35" y="390.35" width="1.9" height="30" fill="#f75656"/>
<polygon points="1216.63,416.95 1217.35,421.30 1222.01,418.20 1219.84,422.61 1226.38,420.98 1221.63,424.77 1229.06,424.86 1222.46,427.45 1229.64,429.24 1222.20,430.25 1228.04,433.47 1220.89,432.74 1224.50,436.89 1218.73,434.53 1219.56,438.99 1216.05,435.36 1213.97,439.45 1213.25,435.10 1208.59,438.20 1210.76,433.79 1204.22,435.42 1208.97,431.63 1201.54,431.54 1208.14,428.95 1200.96,427.16 1208.40,426.15 1202.56,422.93 1209.71,423.66 1206.10,419.51 1211.87,421.87 1211.04,417.41 1214.55,421.04" fill="#f75656"/>
<rect x="1185.3" y="437.20000000000005" width="60" height="2" fill="#f6f6f6"/>
<path d="M1196.0249999999999,437.20000000000005 H1234.575 A2.125,2.125 0 0 1 1234.575,441.45000000000005 H1231.7 V444.75000000000006 A1,1 0 0 1 1230.7,445.75000000000006 H1225.8 V449.40000000000003 A1,1 0 0 1 1224.8,450.40000000000003 H1205.8 A1,1 0 0 1 1204.8,449.40000000000003 V445.75000000000006 H1199.8999999999999 A1,1 0 0 1 1198.8999999999999,444.75000000000006 V441.45000000000005 H1196.0249999999999 A2.125,2.125 0 0 1 1196.0249999999999,437.20000000000005 Z" fill="#e2e2e2"/>
</g>
<text x="1215.3" y="489.1" font-family="Liberation Sans" font-size="12.3" font-weight="bold" fill="#f6f6f6" text-anchor="middle" >SLS</text>
<text x="1215.3" y="504.6" font-family="Liberation Sans" font-size="9.4" font-weight="bold" fill="#d3d6d7" text-anchor="middle" >Selective</text>
<text x="1215.3" y="515.9" font-family="Liberation Sans" font-size="9.4" font-weight="bold" fill="#d3d6d7" text-anchor="middle" >Laser Sintering</text>
<g clip-path="url(#cc11)"><rect x="1287.6" y="393.2" width="74.4" height="74.4" fill="#ffffff"/>
<rect x="1284.8" y="437.25" width="80" height="45" fill="url(#dp3)"/>
<rect x="1323.85" y="390.4" width="1.9" height="30" fill="#f75656"/>
<polygon points="1326.13,417.00 1326.85,421.35 1331.51,418.25 1329.34,422.66 1335.88,421.03 1331.13,424.82 1338.56,424.91 1331.96,427.50 1339.14,429.29 1331.70,430.30 1337.54,433.52 1330.39,432.79 1334.00,436.94 1328.23,434.58 1329.06,439.04 1325.55,435.41 1323.47,439.50 1322.75,435.15 1318.09,438.25 1320.26,433.84 1313.72,435.47 1318.47,431.68 1311.04,431.59 1317.64,429.00 1310.46,427.21 1317.90,426.20 1312.06,422.98 1319.21,423.71 1315.60,419.56 1321.37,421.92 1320.54,417.46 1324.05,421.09" fill="#f75656"/>
<rect x="1294.8" y="437.25" width="60" height="1.5" fill="#e4e4e4"/>
<path d="M1305.5249999999999,437.25 H1344.075 A2.125,2.125 0 0 1 1344.075,441.5 H1341.2 V444.8 A1,1 0 0 1 1340.2,445.8 H1335.3 V449.45 A1,1 0 0 1 1334.3,450.45 H1315.3 A1,1 0 0 1 1314.3,449.45 V445.8 H1309.3999999999999 A1,1 0 0 1 1308.3999999999999,444.8 V441.5 H1305.5249999999999 A2.125,2.125 0 0 1 1305.5249999999999,437.25 Z" fill="#bdbdbd"/>
</g>
<text x="1324.8" y="489.1" font-family="Liberation Sans" font-size="12.3" font-weight="bold" fill="#f6f6f6" text-anchor="middle" >DMLS / SLM</text>
<text x="1324.8" y="504.6" font-family="Liberation Sans" font-size="9.4" font-weight="bold" fill="#d3d6d7" text-anchor="middle" >Direct Metal Laser Sintering</text>
<text x="1324.8" y="515.9" font-family="Liberation Sans" font-size="9.4" font-weight="bold" fill="#d3d6d7" text-anchor="middle" >Selective Laser Melting</text>
<g clip-path="url(#cc12)"><rect x="1395.45" y="394.45" width="74.4" height="74.4" fill="#ffffff"/>
<rect x="1392.65" y="438.54999999999995" width="80" height="45" fill="url(#dp4)"/>
<polygon points="1425.1000000000001,391.65 1439.6000000000001,391.65 1433.45,421.4 1432.0500000000002,421.4" fill="#c0c0c0"/>
<rect x="1431.9" y="421.4" width="1.2" height="16.8" fill="#2c7386"/>
<line x1="1420.8500000000001" y1="426.25" x2="1428.8000000000002" y2="433.09999999999997" stroke="#2c7386" stroke-width="1.05"/>
<line x1="1444.25" y1="426.25" x2="1436.3000000000002" y2="433.09999999999997" stroke="#2c7386" stroke-width="1.05"/>
<line x1="1422.4" y1="435.45" x2="1428.5" y2="435.45" stroke="#2c7386" stroke-width="1.05"/>
<line x1="1436.45" y1="435.45" x2="1442.7" y2="435.45" stroke="#2c7386" stroke-width="1.05"/>
<path d="M1424.15,438.54999999999995 H1440.95 A1.95,1.95 0 0 1 1440.95,442.45 H1438.0 V445.75 A1,1 0 0 1 1437.0,446.75 H1428.5 A1,1 0 0 1 1427.5,445.75 V442.45 H1424.15 A1.95,1.95 0 0 1 1424.15,438.54999999999995 Z" fill="#c2c2c2"/>
</g>
<text x="1432.65" y="489.1" font-family="Liberation Sans" font-size="12.3" font-weight="bold" fill="#f6f6f6" text-anchor="middle" >EBM</text>
<text x="1432.65" y="504.6" font-family="Liberation Sans" font-size="9.4" font-weight="bold" fill="#d3d6d7" text-anchor="middle" >Electron</text>
<text x="1432.65" y="515.9" font-family="Liberation Sans" font-size="9.4" font-weight="bold" fill="#d3d6d7" text-anchor="middle" >Beam Melting</text>
<g clip-path="url(#cc13)"><rect x="1544.75" y="396.35" width="74.4" height="74.4" fill="#ffffff"/>
<rect x="1541.95" y="432.8" width="40" height="5.8" fill="#cdcdcd"/><rect x="1541.95" y="440.55" width="80" height="6.2" fill="#cdcdcd"/><rect x="1541.95" y="448.15" width="80" height="6.2" fill="#cdcdcd"/><rect x="1541.95" y="455.75" width="80" height="6.2" fill="#cdcdcd"/><rect x="1541.95" y="463.35" width="80" height="6.2" fill="#cdcdcd"/><rect x="1541.95" y="470.95" width="80" height="6.2" fill="#cdcdcd"/>
<polygon points="1600.15,393.55 1621.95,393.55 1621.95,417.55 1598.15,424.2 1593.8500000000001,419.90000000000003" fill="#c0c0c0"/>
<polygon points="1593.8500000000001,419.90000000000003 1598.15,424.2 1584.15,437.55 1581.95,434.55" fill="#e4e4e4"/>
<rect x="1581.0" y="393.55" width="1.9" height="30" fill="#f75656"/>
<polygon points="1583.26,419.95 1584.00,424.30 1588.59,421.20 1586.49,425.61 1592.91,423.98 1588.28,427.77 1595.56,427.86 1589.11,430.45 1596.14,432.24 1588.85,433.25 1594.56,436.47 1587.54,435.74 1591.05,439.89 1585.38,437.53 1586.17,441.99 1582.70,438.36 1580.64,442.45 1579.90,438.10 1575.31,441.20 1577.41,436.79 1570.99,438.42 1575.62,434.63 1568.34,434.54 1574.79,431.95 1567.76,430.16 1575.05,429.15 1569.34,425.93 1576.36,426.66 1572.85,422.51 1578.52,424.87 1577.73,420.41 1581.20,424.04" fill="#f75656"/>
</g>
<text x="1581.95" y="489.1" font-family="Liberation Sans" font-size="12.3" font-weight="bold" fill="#f6f6f6" text-anchor="middle" >LENS</text>
<text x="1581.95" y="504.6" font-family="Liberation Sans" font-size="9.4" font-weight="bold" fill="#d3d6d7" text-anchor="middle" >Laser Engineering</text>
<text x="1581.95" y="515.9" font-family="Liberation Sans" font-size="9.4" font-weight="bold" fill="#d3d6d7" text-anchor="middle" >Net Shape</text>
<g clip-path="url(#cc14)"><rect x="1651.1499999999999" y="395.35" width="74.4" height="74.4" fill="#ffffff"/>
<rect x="1648.35" y="431.8" width="40" height="5.8" fill="#cdcdcd"/><rect x="1648.35" y="439.55" width="80" height="6.2" fill="#cdcdcd"/><rect x="1648.35" y="447.15" width="80" height="6.2" fill="#cdcdcd"/><rect x="1648.35" y="454.75" width="80" height="6.2" fill="#cdcdcd"/><rect x="1648.35" y="462.35" width="80" height="6.2" fill="#cdcdcd"/><rect x="1648.35" y="469.95" width="80" height="6.2" fill="#cdcdcd"/>
<polygon points="1706.55,392.55 1728.35,392.55 1728.35,416.55 1704.55,423.2 1700.25,418.90000000000003" fill="#c0c0c0"/>
<polygon points="1700.25,418.90000000000003 1704.55,423.2 1690.55,436.55 1688.35,433.55" fill="#e4e4e4"/>
<polygon points="1681.1499999999999,392.55 1695.1499999999999,392.55 1689.05,422.40000000000003 1687.6499999999999,422.40000000000003" fill="#c0c0c0"/>
<rect x="1687.6999999999998" y="422.40000000000003" width="1.2" height="16.8" fill="#2c7386"/>
<line x1="1676.85" y1="426.85" x2="1684.6499999999999" y2="434.5" stroke="#2c7386" stroke-width="1.05"/>
<line x1="1678.3999999999999" y1="436.45" x2="1684.25" y2="436.45" stroke="#2c7386" stroke-width="1.05"/>
<line x1="1692.4499999999998" y1="436.45" x2="1698.3" y2="436.45" stroke="#2c7386" stroke-width="1.05"/>
</g>
<text x="1688.35" y="489.1" font-family="Liberation Sans" font-size="12.3" font-weight="bold" fill="#f6f6f6" text-anchor="middle" >EBAM</text>
<text x="1688.35" y="504.6" font-family="Liberation Sans" font-size="9.4" font-weight="bold" fill="#d3d6d7" text-anchor="middle" >Electron Beam</text>
<text x="1688.35" y="515.9" font-family="Liberation Sans" font-size="9.4" font-weight="bold" fill="#d3d6d7" text-anchor="middle" >Additive Manufacturing</text>
<g clip-path="url(#cc15)"><rect x="1798.6" y="396.55" width="74.4" height="74.4" fill="#ffffff"/>
<rect x="1795.8" y="440.35" width="80" height="1.0" fill="#d6d6d6"/><rect x="1795.8" y="443.65" width="80" height="1.0" fill="#d6d6d6"/><rect x="1795.8" y="446.95" width="80" height="1.0" fill="#d6d6d6"/><rect x="1795.8" y="450.25" width="80" height="1.0" fill="#d6d6d6"/><rect x="1795.8" y="453.55" width="80" height="1.0" fill="#d6d6d6"/><rect x="1795.8" y="456.85" width="80" height="1.0" fill="#d6d6d6"/><rect x="1795.8" y="460.15" width="80" height="1.0" fill="#d6d6d6"/><rect x="1795.8" y="463.45" width="80" height="1.0" fill="#d6d6d6"/><rect x="1795.8" y="466.75" width="80" height="1.0" fill="#d6d6d6"/><rect x="1795.8" y="470.05" width="80" height="1.0" fill="#d6d6d6"/><rect x="1795.8" y="473.35" width="80" height="1.0" fill="#d6d6d6"/>
<path d="M1811.2,393.75 H1860.3 V424.8 H1839.1 V416.75 H1811.2 Z" fill="#c0c0c0"/>
<polygon points="1821.35,416.75 1825.1,416.75 1825.1,443.75 1823.2,449.35 1821.35,443.75" fill="#d0d0d0"/>
<rect x="1822.8999999999999" y="448.75" width="0.8" height="25" fill="#d0d0d0"/>
<path d="M1843.3999999999999,428.3 C1844.6599999999999,430.284 1846.1999999999998,431.4 1846.1999999999998,434.5 A2.8,2.8 0 0 1 1840.6,434.5 C1840.6,431.4 1842.1399999999999,430.284 1843.3999999999999,428.3 Z" fill="#f55252"/>
<path d="M1856.2,428.3 C1857.46,430.284 1859.0,431.4 1859.0,434.5 A2.8,2.8 0 0 1 1853.4,434.5 C1853.4,431.4 1854.94,430.284 1856.2,428.3 Z" fill="#3b7fc4"/>
<g clip-path="url(#lomclip)"><path d="M1849.8,433.0 C1851.06,434.984 1852.6,436.09999999999997 1852.6,439.2 A2.8,2.8 0 0 1 1847.0,439.2 C1847.0,436.09999999999997 1848.54,434.984 1849.8,433.0 Z" fill="#4cc566"/></g>
</g>
<text x="1835.8" y="489.1" font-family="Liberation Sans" font-size="12.3" font-weight="bold" fill="#f6f6f6" text-anchor="middle" >LOM</text>
<text x="1835.8" y="504.6" font-family="Liberation Sans" font-size="9.4" font-weight="bold" fill="#d3d6d7" text-anchor="middle" >Laminated Object</text>
<text x="1835.8" y="515.9" font-family="Liberation Sans" font-size="9.4" font-weight="bold" fill="#d3d6d7" text-anchor="middle" >Manufacturing</text>
<line x1="83.5" y1="523" x2="83.5" y2="559.5" stroke="#989da1" stroke-width="1"/>
<line x1="83.5" y1="619.5" x2="83.5" y2="637.5" stroke="#989da1" stroke-width="1"/>
<line x1="192.5" y1="523" x2="192.5" y2="559.5" stroke="#989da1" stroke-width="1"/>
<line x1="192.5" y1="619.5" x2="192.5" y2="637.5" stroke="#989da1" stroke-width="1"/>
<line x1="300.5" y1="523" x2="300.5" y2="559.5" stroke="#989da1" stroke-width="1"/>
<line x1="300.5" y1="619.5" x2="300.5" y2="637.5" stroke="#989da1" stroke-width="1"/>
<line x1="598.5" y1="523" x2="598.5" y2="559.5" stroke="#989da1" stroke-width="1"/>
<line x1="598.5" y1="619.5" x2="598.5" y2="637.5" stroke="#989da1" stroke-width="1"/>
<line x1="707.5" y1="523" x2="707.5" y2="559.5" stroke="#989da1" stroke-width="1"/>
<line x1="707.5" y1="619.5" x2="707.5" y2="637.5" stroke="#989da1" stroke-width="1"/>
<line x1="809.5" y1="523" x2="809.5" y2="559.5" stroke="#989da1" stroke-width="1"/>
<line x1="809.5" y1="619.5" x2="809.5" y2="637.5" stroke="#989da1" stroke-width="1"/>
<line x1="1108.5" y1="523" x2="1108.5" y2="559.5" stroke="#989da1" stroke-width="1"/>
<line x1="1108.5" y1="619.5" x2="1108.5" y2="637.5" stroke="#989da1" stroke-width="1"/>
<line x1="1215.5" y1="523" x2="1215.5" y2="559.5" stroke="#989da1" stroke-width="1"/>
<line x1="1215.5" y1="619.5" x2="1215.5" y2="637.5" stroke="#989da1" stroke-width="1"/>
<line x1="1324.5" y1="523" x2="1324.5" y2="559.5" stroke="#989da1" stroke-width="1"/>
<line x1="1324.5" y1="619.5" x2="1324.5" y2="637.5" stroke="#989da1" stroke-width="1"/>
<line x1="1432.5" y1="523" x2="1432.5" y2="559.5" stroke="#989da1" stroke-width="1"/>
<line x1="1432.5" y1="619.5" x2="1432.5" y2="637.5" stroke="#989da1" stroke-width="1"/>
<line x1="1582.5" y1="523" x2="1582.5" y2="559.5" stroke="#989da1" stroke-width="1"/>
<line x1="1582.5" y1="619.5" x2="1582.5" y2="637.5" stroke="#989da1" stroke-width="1"/>
<line x1="1688.5" y1="523" x2="1688.5" y2="559.5" stroke="#989da1" stroke-width="1"/>
<line x1="1688.5" y1="619.5" x2="1688.5" y2="637.5" stroke="#989da1" stroke-width="1"/>
<line x1="449.5" y1="523" x2="449.5" y2="541.5" stroke="#989da1" stroke-width="1"/>
<line x1="424.5" y1="541.5" x2="474.5" y2="541.5" stroke="#989da1" stroke-width="1"/>
<line x1="425.0" y1="541.5" x2="425.0" y2="559.5" stroke="#989da1" stroke-width="1"/>
<line x1="474.0" y1="541.5" x2="474.0" y2="559.5" stroke="#989da1" stroke-width="1"/>
<line x1="449.5" y1="619.5" x2="449.5" y2="637.5" stroke="#989da1" stroke-width="1"/>
<line x1="958.5" y1="523" x2="958.5" y2="541.5" stroke="#989da1" stroke-width="1"/>
<line x1="934.5" y1="541.5" x2="984.5" y2="541.5" stroke="#989da1" stroke-width="1"/>
<line x1="935.0" y1="541.5" x2="935.0" y2="559.5" stroke="#989da1" stroke-width="1"/>
<line x1="984.0" y1="541.5" x2="984.0" y2="559.5" stroke="#989da1" stroke-width="1"/>
<line x1="958.5" y1="619.5" x2="958.5" y2="637.5" stroke="#989da1" stroke-width="1"/>
<line x1="1836.5" y1="523" x2="1836.5" y2="541.5" stroke="#989da1" stroke-width="1"/>
<line x1="1811.5" y1="541.5" x2="1861.5" y2="541.5" stroke="#989da1" stroke-width="1"/>
<line x1="1812.0" y1="541.5" x2="1812.0" y2="559.5" stroke="#989da1" stroke-width="1"/>
<line x1="1861.0" y1="541.5" x2="1861.0" y2="559.5" stroke="#989da1" stroke-width="1"/>
<line x1="1836.5" y1="619.5" x2="1836.5" y2="637.5" stroke="#989da1" stroke-width="1"/>
<polygon points="74.0,569 93.0,569 92.0,575.8 75.0,575.8" fill="#f6f6f6"/><polygon points="75.6,575.8 91.4,575.8 89.2,593.8 77.8,593.8" fill="#e3e3e3"/><polygon points="77.4,591.6 89.6,591.6 89.2,593.8 77.8,593.8" fill="#f6f6f6"/>
<polygon points="183.0,569 202.0,569 201.0,575.8 184.0,575.8" fill="#f6f6f6"/><polygon points="184.6,575.8 200.4,575.8 198.2,593.8 186.8,593.8" fill="#e3e3e3"/><polygon points="186.4,591.6 198.6,591.6 198.2,593.8 186.8,593.8" fill="#f6f6f6"/>
<polygon points="291.0,569 310.0,569 309.0,575.8 292.0,575.8" fill="#f6f6f6"/><polygon points="292.6,575.8 308.4,575.8 306.2,593.8 294.8,593.8" fill="#e3e3e3"/><polygon points="294.4,591.6 306.6,591.6 306.2,593.8 294.8,593.8" fill="#f6f6f6"/>
<polygon points="464.0,569 483.0,569 482.0,575.8 465.0,575.8" fill="#f6f6f6"/><polygon points="465.6,575.8 481.4,575.8 479.2,593.8 467.8,593.8" fill="#e3e3e3"/><polygon points="467.4,591.6 479.6,591.6 479.2,593.8 467.8,593.8" fill="#f6f6f6"/>
<polygon points="589.0,569 608.0,569 607.0,575.8 590.0,575.8" fill="#f6f6f6"/><polygon points="590.6,575.8 606.4,575.8 604.2,593.8 592.8,593.8" fill="#e3e3e3"/><polygon points="592.4,591.6 604.6,591.6 604.2,593.8 592.8,593.8" fill="#f6f6f6"/>
<polygon points="1099.0,569 1118.0,569 1117.0,575.8 1100.0,575.8" fill="#f6f6f6"/><polygon points="1100.6,575.8 1116.4,575.8 1114.2,593.8 1102.8,593.8" fill="#e3e3e3"/><polygon points="1102.4,591.6 1114.6,591.6 1114.2,593.8 1102.8,593.8" fill="#f6f6f6"/>
<polygon points="1206.0,569 1225.0,569 1224.0,575.8 1207.0,575.8" fill="#f6f6f6"/><polygon points="1207.6,575.8 1223.4,575.8 1221.2,593.8 1209.8,593.8" fill="#e3e3e3"/><polygon points="1209.4,591.6 1221.6,591.6 1221.2,593.8 1209.8,593.8" fill="#f6f6f6"/>
<path d="M720.0,569 H707.5 A12.5,12.5 0 0 0 707.5,594 H720.0 V587 H707.5 A5.5,5.5 0 0 1 707.5,576 H720.0 Z" fill="#e5e5e5"/><rect x="715.1" y="569" width="4.9" height="7" fill="#f65454"/><rect x="715.1" y="587" width="4.9" height="7" fill="#f65454"/>
<path d="M996.0,569 H983.5 A12.5,12.5 0 0 0 983.5,594 H996.0 V587 H983.5 A5.5,5.5 0 0 1 983.5,576 H996.0 Z" fill="#e5e5e5"/><rect x="991.1" y="569" width="4.9" height="7" fill="#f65454"/><rect x="991.1" y="587" width="4.9" height="7" fill="#f65454"/>
<path d="M1337.0,569 H1324.5 A12.5,12.5 0 0 0 1324.5,594 H1337.0 V587 H1324.5 A5.5,5.5 0 0 1 1324.5,576 H1337.0 Z" fill="#e5e5e5"/><rect x="1332.1" y="569" width="4.9" height="7" fill="#f65454"/><rect x="1332.1" y="587" width="4.9" height="7" fill="#f65454"/>
<path d="M1445.0,569 H1432.5 A12.5,12.5 0 0 0 1432.5,594 H1445.0 V587 H1432.5 A5.5,5.5 0 0 1 1432.5,576 H1445.0 Z" fill="#e5e5e5"/><rect x="1440.1" y="569" width="4.9" height="7" fill="#f65454"/><rect x="1440.1" y="587" width="4.9" height="7" fill="#f65454"/>
<path d="M1595.0,569 H1582.5 A12.5,12.5 0 0 0 1582.5,594 H1595.0 V587 H1582.5 A5.5,5.5 0 0 1 1582.5,576 H1595.0 Z" fill="#e5e5e5"/><rect x="1590.1" y="569" width="4.9" height="7" fill="#f65454"/><rect x="1590.1" y="587" width="4.9" height="7" fill="#f65454"/>
<path d="M1701.0,569 H1688.5 A12.5,12.5 0 0 0 1688.5,594 H1701.0 V587 H1688.5 A5.5,5.5 0 0 1 1688.5,576 H1701.0 Z" fill="#e5e5e5"/><rect x="1696.1" y="569" width="4.9" height="7" fill="#f65454"/><rect x="1696.1" y="587" width="4.9" height="7" fill="#f65454"/>
<rect x="412.5" y="569" width="24.9" height="24.8" fill="url(#weave)"/>
<rect x="1799.1" y="569" width="24.9" height="24.8" fill="url(#weave)"/>
<rect x="800.6" y="569.1" width="9.9" height="21" rx="1" fill="#f0d67a"/><rect x="810.5" y="577.9" width="9.9" height="12" rx="1" fill="#e9cf72"/><path d="M800.6,570.1 a1,1 0 0 1 1,-1 h7.9 a1,1 0 0 1 1,1 v5 q-1,1.5 -2,0 q-1.2,-1.2 -2.2,0.3 q-1,1.5 -2.2,-0.2 q-1,-1.2 -2.2,0.2 q-1,1 -1.3,-0.3 Z" fill="#d14f4f"/><path d="M810.5,578.9 a1,1 0 0 1 1,-1 h7.9 a1,1 0 0 1 1,1 v5 q-1,1.5 -2,0 q-1.2,-1.2 -2.2,0.3 q-1,1.5 -2.2,-0.2 q-1,-1.2 -2.2,0.2 q-1,1 -1.3,-0.3 Z" fill="#d14f4f"/><path d="M795.8,589.5 H824.4 q0.5,1.5 -1.5,3 q-1,1.3 -3,1.3 H799.2 q-2,0 -3,-1.3 q-1.9,-1.5 -1.4,-3 Z" fill="#f6f6f6"/>
<path d="M815.5,569.5 C815.905,571.196 816.4,572.1500000000001 816.4,574.8000000000001 A0.9,0.9 0 0 1 814.6,574.8000000000001 C814.6,572.1500000000001 815.095,571.196 815.5,569.5 Z" fill="#fde34a"/>
<path d="M925.6,569 H930.9 V571.8 a0.9,0.9 0 0 0 1.8,0 V569 H938.2 V571.8 a0.9,0.9 0 0 0 1.8,0 V569 H945.5 L948.5,594 H922.6 Z" fill="#cda864"/>
<path d="M1850.8,569 H1864.2 L1869.3,574.2 V593.8 H1850.8 Z" fill="#f8f8f8"/><path d="M1864.2,569 L1869.3,574.2 H1864.2 Z" fill="#dcdcdc"/>
<text x="83.5" y="608.9" font-family="Liberation Sans" font-size="8.1" font-weight="bold" fill="#d0d3d5" text-anchor="middle" >Plastic</text>
<text x="192.5" y="608.9" font-family="Liberation Sans" font-size="8.1" font-weight="bold" fill="#d0d3d5" text-anchor="middle" >Plastic</text>
<text x="300.5" y="608.9" font-family="Liberation Sans" font-size="8.1" font-weight="bold" fill="#d0d3d5" text-anchor="middle" >Plastic</text>
<text x="425" y="608.9" font-family="Liberation Sans" font-size="8.1" font-weight="bold" fill="#d0d3d5" text-anchor="middle" >Composite</text>
<text x="473.5" y="608.9" font-family="Liberation Sans" font-size="8.1" font-weight="bold" fill="#d0d3d5" text-anchor="middle" >Plastic</text>
<text x="598.5" y="608.9" font-family="Liberation Sans" font-size="8.1" font-weight="bold" fill="#d0d3d5" text-anchor="middle" >Plastic</text>
<text x="707.5" y="608.9" font-family="Liberation Sans" font-size="8.1" font-weight="bold" fill="#d0d3d5" text-anchor="middle" >Metal</text>
<text x="809.5" y="608.9" font-family="Liberation Sans" font-size="8.1" font-weight="bold" fill="#d0d3d5" text-anchor="middle" >Wax</text>
<text x="934.5" y="608.9" font-family="Liberation Sans" font-size="8.1" font-weight="bold" fill="#d0d3d5" text-anchor="middle" >Gypsum,</text>
<text x="983.5" y="608.9" font-family="Liberation Sans" font-size="8.1" font-weight="bold" fill="#d0d3d5" text-anchor="middle" >Metal</text>
<text x="1108.5" y="608.9" font-family="Liberation Sans" font-size="8.1" font-weight="bold" fill="#d0d3d5" text-anchor="middle" >Plastic</text>
<text x="1215.5" y="608.9" font-family="Liberation Sans" font-size="8.1" font-weight="bold" fill="#d0d3d5" text-anchor="middle" >Plastic</text>
<text x="1324.5" y="608.9" font-family="Liberation Sans" font-size="8.1" font-weight="bold" fill="#d0d3d5" text-anchor="middle" >Metal</text>
<text x="1432.5" y="608.9" font-family="Liberation Sans" font-size="8.1" font-weight="bold" fill="#d0d3d5" text-anchor="middle" >Metal</text>
<text x="1582.5" y="608.9" font-family="Liberation Sans" font-size="8.1" font-weight="bold" fill="#d0d3d5" text-anchor="middle" >Metal</text>
<text x="1688.5" y="608.9" font-family="Liberation Sans" font-size="8.1" font-weight="bold" fill="#d0d3d5" text-anchor="middle" >Metal</text>
<text x="1811.5" y="608.9" font-family="Liberation Sans" font-size="8.1" font-weight="bold" fill="#d0d3d5" text-anchor="middle" >Composite</text>
<text x="1860" y="608.9" font-family="Liberation Sans" font-size="8.1" font-weight="bold" fill="#d0d3d5" text-anchor="middle" >Paper</text>
<text x="934.5" y="618.8" font-family="Liberation Sans" font-size="8.1" font-weight="bold" fill="#d0d3d5" text-anchor="middle" >Sand</text>
<g transform="translate(39.9,655.1) scale(1.0)"><path d="M0.4,7 L7.7,2 L7.7,10.6 L0.2,12.2 Z" fill="#f0f0f0"/><path d="M0.6,6.3 L5.2,3.6 M0.5,8.6 L5.2,6.2 M0.4,10.8 L5.2,8.8" stroke="#485359" stroke-width="0.7"/><path d="M9.4,0.6 L16.7,5.6 L16.7,11.6 L9.4,10.2 Z" fill="#f4f4f4"/><path d="M11.6,4.2 L14.6,6.6 L14.6,9.8 L11.6,8.8 Z" fill="#485359"/><path d="M0,12.4 L8.4,10.4 L16.8,12.4 L8.4,16.9 Z" fill="#d8d8d8"/><path d="M2.2,12.9 L14.6,12.9 M3.6,14.3 L13.2,14.3 M5.6,15.6 L11.2,15.6" stroke="#8e9396" stroke-width="0.6"/><text x="18.1" y="11.7" font-family="Liberation Sans" font-size="5.9" font-weight="bold" fill="#dcdcdc" textLength="23.5" lengthAdjust="spacingAndGlyphs">3DS</text><text x="41.8" y="11.7" font-family="Liberation Sans" font-size="5.9" fill="#c2c5c7" textLength="43.5" lengthAdjust="spacingAndGlyphs">YSTEMS</text></g>
<text x="46.8" y="695.5" font-family="Liberation Sans" font-size="14" fill="#f4f4f4"><tspan font-weight="bold">form</tspan><tspan fill="#e6e6e6">labs</tspan></text>
<path d="M104.5,686 L110.5,690 L112,689 L119.5,685.5 L115,695 L112,692 L108,695.5 Z" fill="none" stroke="#e6e6e6" stroke-width="1.3"/><path d="M112,692 L115,695 L118,687 Z" fill="#e6e6e6"/>
<circle cx="83" cy="710.8" r="3.0" fill="#d2d2d2"/>
<circle cx="79.7" cy="716.4" r="3.0" fill="#d2d2d2"/>
<circle cx="86.3" cy="716.4" r="3.0" fill="#d2d2d2"/>
<circle cx="76.4" cy="722.0" r="3.0" fill="#d2d2d2"/>
<circle cx="83" cy="722.0" r="3.0" fill="#d2d2d2"/>
<circle cx="89.6" cy="722.0" r="3.0" fill="#d2d2d2"/>
<g fill="none" stroke="#f0f0f0" stroke-width="1.6"><path d="M61.1,729 H71.2 Q72.6,729 72.6,730.4 V732.8 Q72.6,734.2 71.2,734.2 H61.1 Z"/><path d="M75.7,728.2 V732.8 Q75.7,734.2 77.1,734.2 H88.9 Q90.3,734.2 90.3,732.8 V728.2 M83,728.2 V734.2"/><path d="M105.7,729 H93.9 Q92.6,729 92.6,730.3 Q92.6,731.6 93.9,731.6 H103.6 Q104.9,731.6 104.9,732.9 Q104.9,734.2 103.6,734.2 H91.8"/></g>
<text x="162.7" y="674.2" font-family="Liberation Sans" font-size="11.60" fill="#dedede" textLength="41.50" lengthAdjust="spacingAndGlyphs">envision</text>
<text x="204.50" y="674.2" font-family="Liberation Sans" font-size="8.80" font-weight="bold" fill="#f4f4f4" textLength="16.60" lengthAdjust="spacingAndGlyphs">TEC</text>
<g><polygon points="204.40,652.70 210.70,659.00 204.40,665.30 198.10,659.00" fill="#f4f4f4"/><path d="M201.20,658.40 L203.80,655.80 M203.00,660.20 L205.60,657.60 M204.80,662.00 L207.40,659.40" stroke="#485359" stroke-width="0.80"/></g>
<g><path d="M191.8,685 L207.6,711.8 L176,711.8 Z" fill="#f0f0f0"/><circle cx="192" cy="694.5" r="3.2" fill="#485359"/><circle cx="192" cy="694.5" r="1.4" fill="#f0f0f0"/><circle cx="184.7" cy="705.5" r="3.4" fill="#485359"/><circle cx="184.7" cy="705.5" r="1.6" fill="#f0f0f0"/><path d="M202.5,702.5 a3.4,3.4 0 1 0 0,6" fill="none" stroke="#485359" stroke-width="1.8"/><path d="M190.5,701 L193.5,701 L192,703.5 Z M178,710.5 h2 M190,710.5 h4 M204,710.5 h2" stroke="#485359" stroke-width="1.2"/></g>
<text x="176" y="720.7" font-family="Liberation Serif" font-size="8.5" font-weight="normal" font-style="italic" fill="#dcdcdc" text-anchor="start" textLength="32" lengthAdjust="spacingAndGlyphs" >BJCreator</text>
<text x="271.7" y="668.7" font-family="Liberation Sans" font-size="11.8" font-weight="bold" fill="#f4f4f4" text-anchor="start" textLength="39.5" lengthAdjust="spacingAndGlyphs" >carbon</text>
<text x="311.5" y="668.7" font-family="Liberation Sans" font-size="11.8" font-weight="bold" fill="none" text-anchor="start" textLength="17.5" lengthAdjust="spacingAndGlyphs" stroke="#c8c8c8" stroke-width="0.7">3D</text>
<text x="271" y="701" font-family="Liberation Sans" font-size="11.60" fill="#dedede" textLength="41.50" lengthAdjust="spacingAndGlyphs">envision</text>
<text x="312.80" y="701" font-family="Liberation Sans" font-size="8.80" font-weight="bold" fill="#f4f4f4" textLength="16.60" lengthAdjust="spacingAndGlyphs">TEC</text>
<g><polygon points="312.70,679.50 319.00,685.80 312.70,692.10 306.40,685.80" fill="#f4f4f4"/><path d="M309.50,685.20 L312.10,682.60 M311.30,687.00 L313.90,684.40 M313.10,688.80 L315.70,686.20" stroke="#485359" stroke-width="0.80"/></g>
<text x="449.5" y="653" font-family="Liberation Sans" font-size="6.6" font-weight="bold" fill="#a6abaf" text-anchor="middle" >Plastic</text>
<line x1="434" y1="650.6" x2="438.5" y2="650.6" stroke="#788085" stroke-width="0.8"/>
<line x1="460.5" y1="650.6" x2="465" y2="650.6" stroke="#788085" stroke-width="0.8"/>
<text x="417.8" y="677.3" font-family="Liberation Sans" font-size="13.3" fill="#f4f4f4" textLength="62" lengthAdjust="spacingAndGlyphs"><tspan font-weight="bold">strata</tspan>sys</text>
<text x="413.3" y="701.9" font-family="Liberation Sans" font-size="13.8" font-weight="bold" fill="#f2f2f2" text-anchor="start" textLength="72.4" lengthAdjust="spacingAndGlyphs" >Ultimaker</text>
<circle cx="419.3" cy="720.2" r="6.6" fill="none" stroke="#f0f0f0" stroke-width="1.3"/><text x="414.8" y="723.8" font-family="Liberation Sans" font-size="9.5" font-weight="bold" fill="#f0f0f0" textLength="9" lengthAdjust="spacingAndGlyphs">M</text>
<text x="428" y="724.7" font-family="Liberation Sans" font-size="12.3" font-weight="bold" fill="#f0f0f0" text-anchor="start" textLength="57.7" lengthAdjust="spacingAndGlyphs" >MakerBot</text>
<text x="417.8" y="750" font-family="Liberation Sans" font-size="18.5" font-weight="normal" fill="#f4f4f4" text-anchor="start" textLength="59" lengthAdjust="spacingAndGlyphs" stroke="#f4f4f4" stroke-width="0.9">zortrax</text>
<circle cx="425.5" cy="773" r="8.6" fill="#f0f0f0"/>
<circle cx="425.50" cy="768.40" r="1.9" fill="#485359"/>
<circle cx="429.90" cy="771.60" r="1.9" fill="#485359"/>
<circle cx="428.20" cy="776.80" r="1.9" fill="#485359"/>
<circle cx="422.80" cy="776.80" r="1.9" fill="#485359"/>
<circle cx="421.10" cy="771.60" r="1.9" fill="#485359"/>
<circle cx="418.5" cy="765" r="1.6" fill="none" stroke="#f0f0f0" stroke-width="0.8"/>
<text x="436.5" y="775.5" font-family="Liberation Sans" font-size="13.5" font-weight="bold" fill="#f4f4f4" text-anchor="start" textLength="35.7" lengthAdjust="spacingAndGlyphs" >PRUSA</text>
<text x="450.6" y="781" font-family="Liberation Sans" font-size="6" font-weight="bold" fill="#f0f0f0" text-anchor="start" textLength="31" lengthAdjust="spacingAndGlyphs" >PRINTERS</text>
<text x="417.8" y="801.8" font-family="Liberation Sans" font-size="13.4" font-weight="normal" fill="#eeeeee" text-anchor="start" textLength="62.5" lengthAdjust="spacingAndGlyphs" >printrbot</text>
<g><path d="M448.5,814 L465.2,842.2 L431.8,842.2 Z" fill="none" stroke="#e8e8e8" stroke-width="1.3"/><circle cx="448.5" cy="832" r="7.3" fill="#e8e8e8"/><circle cx="448.5" cy="832" r="4.6" fill="#485359"/><circle cx="448.5" cy="832" r="2.6" fill="none" stroke="#e8e8e8" stroke-width="1"/><path d="M448.5,818 L452,823.5 L445,823.5 Z M436,840.5 L440,836 L442,840.5 Z M461,840.5 L457,836 L455,840.5 Z" fill="#e8e8e8"/></g>
<text x="432.5" y="848.4" font-family="Liberation Sans" font-size="5.6" font-weight="bold" fill="#e8e8e8" text-anchor="start" textLength="32" lengthAdjust="spacingAndGlyphs" >LULZBOT</text>
<text x="449.5" y="870.6" font-family="Liberation Sans" font-size="6.8" font-weight="normal" fill="#a4a9ad" text-anchor="middle" >Composite (CFF)</text>
<g><path d="M421.6,883 L427.8,886.3 L427.8,893 L421.6,896.3 L415.4,893 L415.4,886.3 Z" fill="#e6e6e6"/><path d="M416,887.5 L421.6,890.5 L427.3,887.5 M416,889.8 L421.6,892.8 L427.3,889.8 M416,892 L421.6,895 L427.3,892 M421.6,884 L421.6,896" stroke="#485359" stroke-width="0.7" fill="none"/></g>
<text x="429.4" y="893.5" font-family="Liberation Sans" font-size="12.6" font-weight="normal" fill="#f2f2f2" text-anchor="start" textLength="54" lengthAdjust="spacingAndGlyphs" stroke="#f2f2f2" stroke-width="0.3">Markforged</text>
<text x="567.6" y="666.6" font-family="Liberation Sans" font-size="13.3" fill="#f4f4f4" textLength="62" lengthAdjust="spacingAndGlyphs"><tspan font-weight="bold">strata</tspan>sys</text>
<g transform="translate(555.6,682.4) scale(1.0)"><path d="M0.4,7 L7.7,2 L7.7,10.6 L0.2,12.2 Z" fill="#f0f0f0"/><path d="M0.6,6.3 L5.2,3.6 M0.5,8.6 L5.2,6.2 M0.4,10.8 L5.2,8.8" stroke="#485359" stroke-width="0.7"/><path d="M9.4,0.6 L16.7,5.6 L16.7,11.6 L9.4,10.2 Z" fill="#f4f4f4"/><path d="M11.6,4.2 L14.6,6.6 L14.6,9.8 L11.6,8.8 Z" fill="#485359"/><path d="M0,12.4 L8.4,10.4 L16.8,12.4 L8.4,16.9 Z" fill="#d8d8d8"/><path d="M2.2,12.9 L14.6,12.9 M3.6,14.3 L13.2,14.3 M5.6,15.6 L11.2,15.6" stroke="#8e9396" stroke-width="0.6"/><text x="18.1" y="11.7" font-family="Liberation Sans" font-size="5.9" font-weight="bold" fill="#dcdcdc" textLength="23.5" lengthAdjust="spacingAndGlyphs">3DS</text><text x="41.8" y="11.7" font-family="Liberation Sans" font-size="5.9" fill="#c2c5c7" textLength="43.5" lengthAdjust="spacingAndGlyphs">YSTEMS</text></g>
<text x="689.3" y="669.5" font-family="Liberation Sans" font-size="16.5" font-weight="bold" fill="#b0b3b5" text-anchor="start" textLength="11.5" lengthAdjust="spacingAndGlyphs" >X</text>
<text x="700.5" y="669.5" font-family="Liberation Sans" font-size="16.5" font-weight="bold" fill="#f4f4f4" text-anchor="start" textLength="25.2" lengthAdjust="spacingAndGlyphs" >JET</text>
<text x="779.3" y="666.8" font-family="Liberation Sans" font-size="13.6" font-weight="normal" font-style="italic" fill="#f4f4f4" text-anchor="start" textLength="61.5" lengthAdjust="spacingAndGlyphs" stroke="#f4f4f4" stroke-width="0.25">Solidscape</text>
<text x="958.5" y="655.3" font-family="Liberation Sans" font-size="6.6" font-weight="bold" fill="#a6abaf" text-anchor="middle" >Gypsum, Sand</text>
<line x1="915" y1="652.9" x2="933.4" y2="652.9" stroke="#788085" stroke-width="0.8"/>
<line x1="984.9" y1="652.9" x2="1003" y2="652.9" stroke="#788085" stroke-width="0.8"/>
<g transform="translate(915.2,666.2) scale(1.0)"><path d="M0.4,7 L7.7,2 L7.7,10.6 L0.2,12.2 Z" fill="#f0f0f0"/><path d="M0.6,6.3 L5.2,3.6 M0.5,8.6 L5.2,6.2 M0.4,10.8 L5.2,8.8" stroke="#485359" stroke-width="0.7"/><path d="M9.4,0.6 L16.7,5.6 L16.7,11.6 L9.4,10.2 Z" fill="#f4f4f4"/><path d="M11.6,4.2 L14.6,6.6 L14.6,9.8 L11.6,8.8 Z" fill="#485359"/><path d="M0,12.4 L8.4,10.4 L16.8,12.4 L8.4,16.9 Z" fill="#d8d8d8"/><path d="M2.2,12.9 L14.6,12.9 M3.6,14.3 L13.2,14.3 M5.6,15.6 L11.2,15.6" stroke="#8e9396" stroke-width="0.6"/><text x="18.1" y="11.7" font-family="Liberation Sans" font-size="5.9" font-weight="bold" fill="#dcdcdc" textLength="23.5" lengthAdjust="spacingAndGlyphs">3DS</text><text x="41.8" y="11.7" font-family="Liberation Sans" font-size="5.9" fill="#c2c5c7" textLength="43.5" lengthAdjust="spacingAndGlyphs">YSTEMS</text></g>
<text x="925" y="706.6" font-family="Liberation Sans" font-size="15.5" font-weight="normal" fill="#f2f2f2" text-anchor="start" textLength="8.5" lengthAdjust="spacingAndGlyphs" >v</text>
<path d="M937.5,700.3 L941.5,703.4 L937.5,706.6 L933.5,703.4 Z" fill="#1d1d1d"/><path d="M933.5,703.4 L937.5,700.3 L941.5,703.4 Z" fill="#f2f2f2"/>
<text x="943" y="706.6" font-family="Liberation Sans" font-size="15.5" font-weight="normal" fill="#f2f2f2" text-anchor="start" textLength="50" lengthAdjust="spacingAndGlyphs" >xeljet</text>
<text x="958.5" y="727.2" font-family="Liberation Sans" font-size="6.6" font-weight="bold" fill="#a6abaf" text-anchor="middle" >Metal</text>
<line x1="915" y1="724.8000000000001" x2="946" y2="724.8000000000001" stroke="#788085" stroke-width="0.8"/>
<line x1="972" y1="724.8000000000001" x2="1003" y2="724.8000000000001" stroke="#788085" stroke-width="0.8"/>
<g><path d="M928.5,741 L935,737 L945,740.5 L949.8,744 L949.8,754 L942,757.5 L936,755 L928,752 Z" fill="#eeeeee"/><path d="M931,741.5 L941.5,753.5 M941,741 L931.5,752" stroke="#c4c4c4" stroke-width="1.6"/><path d="M942.5,743 L947,745.5 L947,752 L942.5,749.5 Z" fill="#9a9a9a"/></g>
<text x="953.9" y="750.5" font-family="Liberation Sans" font-size="12.6" font-weight="normal" fill="#f4f4f4" text-anchor="start" textLength="38" lengthAdjust="spacingAndGlyphs" stroke="#f4f4f4" stroke-width="0.2">ExOne</text>
<text x="954" y="754.6" font-family="Liberation Sans" font-size="2.4" font-weight="normal" fill="#a8a8a8" text-anchor="start" textLength="38" lengthAdjust="spacingAndGlyphs" >DIGITAL PART MATERIALIZATION</text>
<circle cx="1108.3" cy="663.5" r="13.9" fill="#f6f6f6"/><g fill="none" stroke="#485359" stroke-linejoin="miter"><path d="M1106,648.5 L1099.3,669.3" stroke-width="2.4"/><path d="M1104.2,658.4 H1108.4 L1104.6,669.3" stroke-width="2.1"/><path d="M1112.8,657.4 L1106.4,678.5" stroke-width="2.4"/><path d="M1112.2,658.4 H1118 L1114.9,668.3 H1109.6" stroke-width="2.1"/></g>
<g><ellipse cx="1200.9" cy="663.6" rx="7.9" ry="8.3" fill="#f8f8f8"/><rect x="1198.1" y="659.9" width="5.7" height="1.9" rx="0.9" fill="#485359"/><rect x="1198.1" y="665.3" width="11.5" height="1.6" fill="#485359"/><circle cx="1216.2" cy="663.6" r="7.0" fill="#f8f8f8"/><path d="M1222.2,657.5 L1213,671.5 M1219.6,656.5 L1210.5,670 M1217,656.5 L1209.5,667.5 M1221.5,661.5 L1214.5,672" stroke="#8a8e91" stroke-width="1.1"/><ellipse cx="1230.1" cy="663.6" rx="6.9" ry="8.3" fill="#f8f8f8"/><rect x="1226" y="660.5" width="11.5" height="1.3" fill="#485359"/><rect x="1222.5" y="665.3" width="9" height="1.5" fill="#485359"/></g>
<g><ellipse cx="1310.5" cy="663.6" rx="7.9" ry="8.3" fill="#f8f8f8"/><rect x="1307.6999999999998" y="659.9" width="5.7" height="1.9" rx="0.9" fill="#485359"/><rect x="1307.6999999999998" y="665.3" width="11.5" height="1.6" fill="#485359"/><circle cx="1325.8" cy="663.6" r="7.0" fill="#f8f8f8"/><path d="M1331.8,657.5 L1322.6,671.5 M1329.1999999999998,656.5 L1320.1,670 M1326.6,656.5 L1319.1,667.5 M1331.1,661.5 L1324.1,672" stroke="#8a8e91" stroke-width="1.1"/><ellipse cx="1339.6999999999998" cy="663.6" rx="6.9" ry="8.3" fill="#f8f8f8"/><rect x="1335.6" y="660.5" width="11.5" height="1.3" fill="#485359"/><rect x="1332.1" y="665.3" width="9" height="1.5" fill="#485359"/></g>
<g transform="translate(1172.1,680.2) scale(1.0)"><path d="M0.4,7 L7.7,2 L7.7,10.6 L0.2,12.2 Z" fill="#f0f0f0"/><path d="M0.6,6.3 L5.2,3.6 M0.5,8.6 L5.2,6.2 M0.4,10.8 L5.2,8.8" stroke="#485359" stroke-width="0.7"/><path d="M9.4,0.6 L16.7,5.6 L16.7,11.6 L9.4,10.2 Z" fill="#f4f4f4"/><path d="M11.6,4.2 L14.6,6.6 L14.6,9.8 L11.6,8.8 Z" fill="#485359"/><path d="M0,12.4 L8.4,10.4 L16.8,12.4 L8.4,16.9 Z" fill="#d8d8d8"/><path d="M2.2,12.9 L14.6,12.9 M3.6,14.3 L13.2,14.3 M5.6,15.6 L11.2,15.6" stroke="#8e9396" stroke-width="0.6"/><text x="18.1" y="11.7" font-family="Liberation Sans" font-size="5.9" font-weight="bold" fill="#dcdcdc" textLength="23.5" lengthAdjust="spacingAndGlyphs">3DS</text><text x="41.8" y="11.7" font-family="Liberation Sans" font-size="5.9" fill="#c2c5c7" textLength="43.5" lengthAdjust="spacingAndGlyphs">YSTEMS</text></g>
<g transform="translate(1281.9,680.2) scale(1.0)"><path d="M0.4,7 L7.7,2 L7.7,10.6 L0.2,12.2 Z" fill="#f0f0f0"/><path d="M0.6,6.3 L5.2,3.6 M0.5,8.6 L5.2,6.2 M0.4,10.8 L5.2,8.8" stroke="#485359" stroke-width="0.7"/><path d="M9.4,0.6 L16.7,5.6 L16.7,11.6 L9.4,10.2 Z" fill="#f4f4f4"/><path d="M11.6,4.2 L14.6,6.6 L14.6,9.8 L11.6,8.8 Z" fill="#485359"/><path d="M0,12.4 L8.4,10.4 L16.8,12.4 L8.4,16.9 Z" fill="#d8d8d8"/><path d="M2.2,12.9 L14.6,12.9 M3.6,14.3 L13.2,14.3 M5.6,15.6 L11.2,15.6" stroke="#8e9396" stroke-width="0.6"/><text x="18.1" y="11.7" font-family="Liberation Sans" font-size="5.9" font-weight="bold" fill="#dcdcdc" textLength="23.5" lengthAdjust="spacingAndGlyphs">3DS</text><text x="41.8" y="11.7" font-family="Liberation Sans" font-size="5.9" fill="#c2c5c7" textLength="43.5" lengthAdjust="spacingAndGlyphs">YSTEMS</text></g>
<g fill="none" stroke="#e4e4e4" stroke-width="1.2"><path d="M1181,709.5 L1194,722.5 M1194,709.5 L1181,722.5"/><path d="M1181.5,707.2 Q1187.5,712 1193.5,707.2 M1181.5,724.6 Q1187.5,720 1193.5,724.6 M1178.2,710 Q1183,716 1178.2,722 M1196.6,710 Q1192,716 1196.6,722"/></g>
<text x="1200.7" y="719.9" font-family="Liberation Sans" font-size="10.8" font-weight="normal" fill="#e4e4e4" text-anchor="start" textLength="51.5" lengthAdjust="spacing" >SINTERIT</text>
<g fill="none" stroke="#e0e0e0" stroke-width="1.1"><path d="M1185.4,734 L1189.8,738.5 L1185.4,743 L1181,738.5 Z M1185.4,737 L1189.8,741.5 L1185.4,746 L1181,741.5 Z"/></g>
<text x="1195.8" y="746" font-family="Liberation Sans" font-size="14.6" font-weight="normal" fill="#e6e6e6" text-anchor="start" textLength="54.5" lengthAdjust="spacingAndGlyphs" >Sintratec</text>
<text x="1305.3" y="719" font-family="Liberation Sans" font-size="16.8" font-weight="bold" fill="#f6f6f6" text-anchor="start" textLength="38.2" lengthAdjust="spacingAndGlyphs" >SLM</text>
<text x="1306" y="725.8" font-family="Liberation Sans" font-size="3.9" font-weight="normal" fill="#b8b8b8" text-anchor="start" textLength="37" lengthAdjust="spacingAndGlyphs" >Solutions GmbH</text>
<text x="1285.8" y="744.9" font-family="Liberation Sans" font-size="12.7" font-weight="bold" fill="#f6f6f6" text-anchor="start" textLength="68.5" lengthAdjust="spacingAndGlyphs" >RENISHAW</text>
<rect x="1355.8" y="736" width="7.2" height="8.8" fill="none" stroke="#d0d0d0" stroke-width="0.8"/><path d="M1358,741 h3 v3 M1359.5,737.5 v4" stroke="#d0d0d0" stroke-width="0.7"/>
<text x="1285.8" y="767.3" font-family="Liberation Sans" font-size="11" font-weight="bold" fill="#f6f6f6" text-anchor="start" textLength="43" lengthAdjust="spacingAndGlyphs" >CONCEPT</text>
<text x="1329.2" y="767.3" font-family="Liberation Sans" font-size="11" font-weight="bold" fill="#dcdcdc" text-anchor="start" textLength="33.8" lengthAdjust="spacingAndGlyphs" >LASER</text>
<g fill="#ececec"><path d="M1281.7,795.2 L1289.5,781.3 L1295,781.3 L1295,795.2 L1290,795.2 L1290,791.5 L1287.5,791.5 L1285.6,795.2 Z"/><path d="M1296.5,795.2 L1300.5,784 L1305,784 L1301,795.2 Z"/><path d="M1302,782.5 L1306.2,781 L1305.5,783.2 Z" fill="#c8c8c8"/></g>
<text x="1310.3" y="789.5" font-family="Liberation Sans" font-size="7.6" font-weight="normal" fill="#e8e8e8" text-anchor="start" textLength="57.5" lengthAdjust="spacingAndGlyphs" >Additive Industries</text>
<text x="1310.3" y="793.3" font-family="Liberation Sans" font-size="2.2" font-weight="normal" fill="#9a9a9a" text-anchor="start" textLength="57" lengthAdjust="spacingAndGlyphs" >Industrializing 3D printing for functional parts</text>
<text x="1402" y="657.6" font-family="Liberation Sans" font-size="3.6" font-weight="normal" fill="#b8bcbe" text-anchor="start" textLength="61.5" lengthAdjust="spacing" >CAD TO METAL</text>
<g fill="none" stroke="#f4f4f4" stroke-width="2.6"><path d="M1398.55,666.1 A5.45,5.45 0 0 1 1409.45,666.1"/><path d="M1413.7,666.1 A5.4,5.4 0 0 1 1419.1,660.7"/><path d="M1426.6,660.5 A5.6,5.6 0 0 0 1426.6,671.7"/><path d="M1429.15,666.1 A5.5,5.5 0 0 1 1440.15,666.1"/><path d="M1444.5,666.1 A4.9,4.9 0 0 1 1454.3,666.1 M1456.9,666.1 A4.9,4.9 0 0 1 1466.7,666.1"/></g>
<circle cx="1403.75" cy="666.9" r="0.8" fill="#f0f0f0"/><circle cx="1434.25" cy="666.9" r="0.8" fill="#f0f0f0"/>
<text x="1428" y="673" font-family="Liberation Sans" font-size="4.2" font-weight="bold" fill="#f0f0f0" text-anchor="start" textLength="20.5" lengthAdjust="spacingAndGlyphs" >Arcam AB</text>
<text x="1541.3" y="669.1" font-family="Liberation Sans" font-size="18.3" font-weight="bold" fill="#f6f6f6" text-anchor="start" textLength="77.5" lengthAdjust="spacingAndGlyphs" stroke="#f6f6f6" stroke-width="1.1">OPTOMEC</text>
<line x1="1551" y1="662.4" x2="1623" y2="662.4" stroke="#cfcfcf" stroke-width="0.6"/>
<text x="1657" y="670.6" font-family="Liberation Sans" font-size="25.4" font-weight="bold" fill="#f0f0f0" text-anchor="start" textLength="45" lengthAdjust="spacingAndGlyphs" >SCIAKY</text>
<path d="M1657.5,670 Q1658,674 1659.5,675.5 L1661,675.5 Q1660.5,672 1661,670 Z" fill="#f0f0f0"/>
<text x="1705.5" y="670.6" font-family="Liberation Sans" font-size="18.5" font-weight="bold" fill="#e6e6e6" text-anchor="start" textLength="13.6" lengthAdjust="spacingAndGlyphs" >INC</text>
<text x="1836" y="654.9" font-family="Liberation Sans" font-size="6.6" font-weight="bold" fill="#a6abaf" text-anchor="middle" >Paper</text>
<line x1="1792" y1="652.5" x2="1823" y2="652.5" stroke="#788085" stroke-width="0.8"/>
<line x1="1849" y1="652.5" x2="1880" y2="652.5" stroke="#788085" stroke-width="0.8"/>
<path d="M1813,670 H1817 L1821.2,679.5 V684.2 H1813 Z" fill="#f4f4f4"/><path d="M1821.1,667.7 L1834.1,665.9 L1830.9,687.8 L1820.9,687.8 Z" fill="#f4f4f4"/><path d="M1822.6,670 H1829 V684.2 H1826.2 V675.5 L1822.4,684.2 H1821.2 V677 Z" fill="#485359"/>
<text x="1833.9" y="681.6" font-family="Liberation Sans" font-size="17.5" font-weight="bold" fill="#f4f4f4" text-anchor="start" textLength="24.4" lengthAdjust="spacingAndGlyphs" >cor</text>
<text x="1836" y="703.3" font-family="Liberation Sans" font-size="6.6" font-weight="bold" fill="#a6abaf" text-anchor="middle" >Composite</text>
<line x1="1791.8" y1="700.9" x2="1815" y2="700.9" stroke="#788085" stroke-width="0.8"/>
<line x1="1856.3" y1="700.9" x2="1879.6" y2="700.9" stroke="#788085" stroke-width="0.8"/>
<text x="1806.3" y="731.7" font-family="Liberation Sans" font-size="11.60" fill="#dedede" textLength="41.50" lengthAdjust="spacingAndGlyphs">envision</text>
<text x="1848.10" y="731.7" font-family="Liberation Sans" font-size="8.80" font-weight="bold" fill="#f4f4f4" textLength="16.60" lengthAdjust="spacingAndGlyphs">TEC</text>
<g><polygon points="1848.00,710.20 1854.30,716.50 1848.00,722.80 1841.70,716.50" fill="#f4f4f4"/><path d="M1844.80,715.90 L1847.40,713.30 M1846.60,717.70 L1849.20,715.10 M1848.40,719.50 L1851.00,716.90" stroke="#485359" stroke-width="0.80"/></g>
<text x="0" y="0" font-family="Liberation Serif" font-size="10.5" font-weight="bold" fill="#eeeeee" transform="translate(1793.5,760.5) rotate(-11)" textLength="56" lengthAdjust="spacingAndGlyphs">I<tspan font-size="8">MPOSSIBLE</tspan></text>
<text x="0" y="0" font-family="Liberation Serif" font-size="12" font-weight="bold" fill="#eeeeee" transform="translate(1838,765) rotate(-11)" textLength="41" lengthAdjust="spacingAndGlyphs">O<tspan font-size="8.5">BJECTS</tspan></text>
<text x="48.3" y="972" font-family="Liberation Sans" font-size="14" fill="#b9bdc0" textLength="354.5" lengthAdjust="spacingAndGlyphs">Find out more at <tspan font-weight="bold" fill="#e4e6e7">www.3dhubs.com/what-is-3d-printing</tspan></text>
<g fill="none" stroke="#f0f0f0" stroke-width="0.9"><polygon points="1708.4,943.5 1718.4,949.3 1728.4,943.5 1748.5,955.2 1748.5,978.2 1718.4,995.9 1688.3,978.2 1688.3,955.2"/>
<g clip-path="url(#hubclip)"><line x1="1688.30" y1="940" x2="1688.30" y2="1000"/><line x1="1698.33" y1="940" x2="1698.33" y2="1000"/><line x1="1708.36" y1="940" x2="1708.36" y2="1000"/><line x1="1718.39" y1="940" x2="1718.39" y2="1000"/><line x1="1728.42" y1="940" x2="1728.42" y2="1000"/><line x1="1738.45" y1="940" x2="1738.45" y2="1000"/><line x1="1748.48" y1="940" x2="1748.48" y2="1000"/><line x1="1680" y1="858.44" x2="1756" y2="902.01"/><line x1="1680" y1="867.96" x2="1756" y2="824.39"/><line x1="1680" y1="869.94" x2="1756" y2="913.51"/><line x1="1680" y1="879.46" x2="1756" y2="835.89"/><line x1="1680" y1="881.44" x2="1756" y2="925.01"/><line x1="1680" y1="890.96" x2="1756" y2="847.39"/><line x1="1680" y1="892.94" x2="1756" y2="936.51"/><line x1="1680" y1="902.46" x2="1756" y2="858.89"/><line x1="1680" y1="904.44" x2="1756" y2="948.01"/><line x1="1680" y1="913.96" x2="1756" y2="870.39"/><line x1="1680" y1="915.94" x2="1756" y2="959.51"/><line x1="1680" y1="925.46" x2="1756" y2="881.89"/><line x1="1680" y1="927.44" x2="1756" y2="971.01"/><line x1="1680" y1="936.96" x2="1756" y2="893.39"/><line x1="1680" y1="938.94" x2="1756" y2="982.51"/><line x1="1680" y1="948.46" x2="1756" y2="904.89"/><line x1="1680" y1="950.44" x2="1756" y2="994.01"/><line x1="1680" y1="959.96" x2="1756" y2="916.39"/><line x1="1680" y1="961.94" x2="1756" y2="1005.51"/><line x1="1680" y1="971.46" x2="1756" y2="927.89"/><line x1="1680" y1="973.44" x2="1756" y2="1017.01"/><line x1="1680" y1="982.96" x2="1756" y2="939.39"/><line x1="1680" y1="984.94" x2="1756" y2="1028.51"/><line x1="1680" y1="994.46" x2="1756" y2="950.89"/><line x1="1680" y1="996.44" x2="1756" y2="1040.01"/><line x1="1680" y1="1005.96" x2="1756" y2="962.39"/><line x1="1680" y1="1007.94" x2="1756" y2="1051.51"/><line x1="1680" y1="1017.46" x2="1756" y2="973.89"/><line x1="1680" y1="1019.44" x2="1756" y2="1063.01"/><line x1="1680" y1="1028.96" x2="1756" y2="985.39"/><line x1="1680" y1="1030.94" x2="1756" y2="1074.51"/><line x1="1680" y1="1040.46" x2="1756" y2="996.89"/><line x1="1680" y1="1042.44" x2="1756" y2="1086.01"/><line x1="1680" y1="1051.96" x2="1756" y2="1008.39"/><line x1="1680" y1="1053.94" x2="1756" y2="1097.51"/><line x1="1680" y1="1063.46" x2="1756" y2="1019.89"/></g></g>
<text x="1762" y="976.3" font-family="Liberation Sans" font-size="24.6" fill="#f6f6f6" textLength="111" lengthAdjust="spacingAndGlyphs">3D HUBS</text>
</svg>
</body></html>
